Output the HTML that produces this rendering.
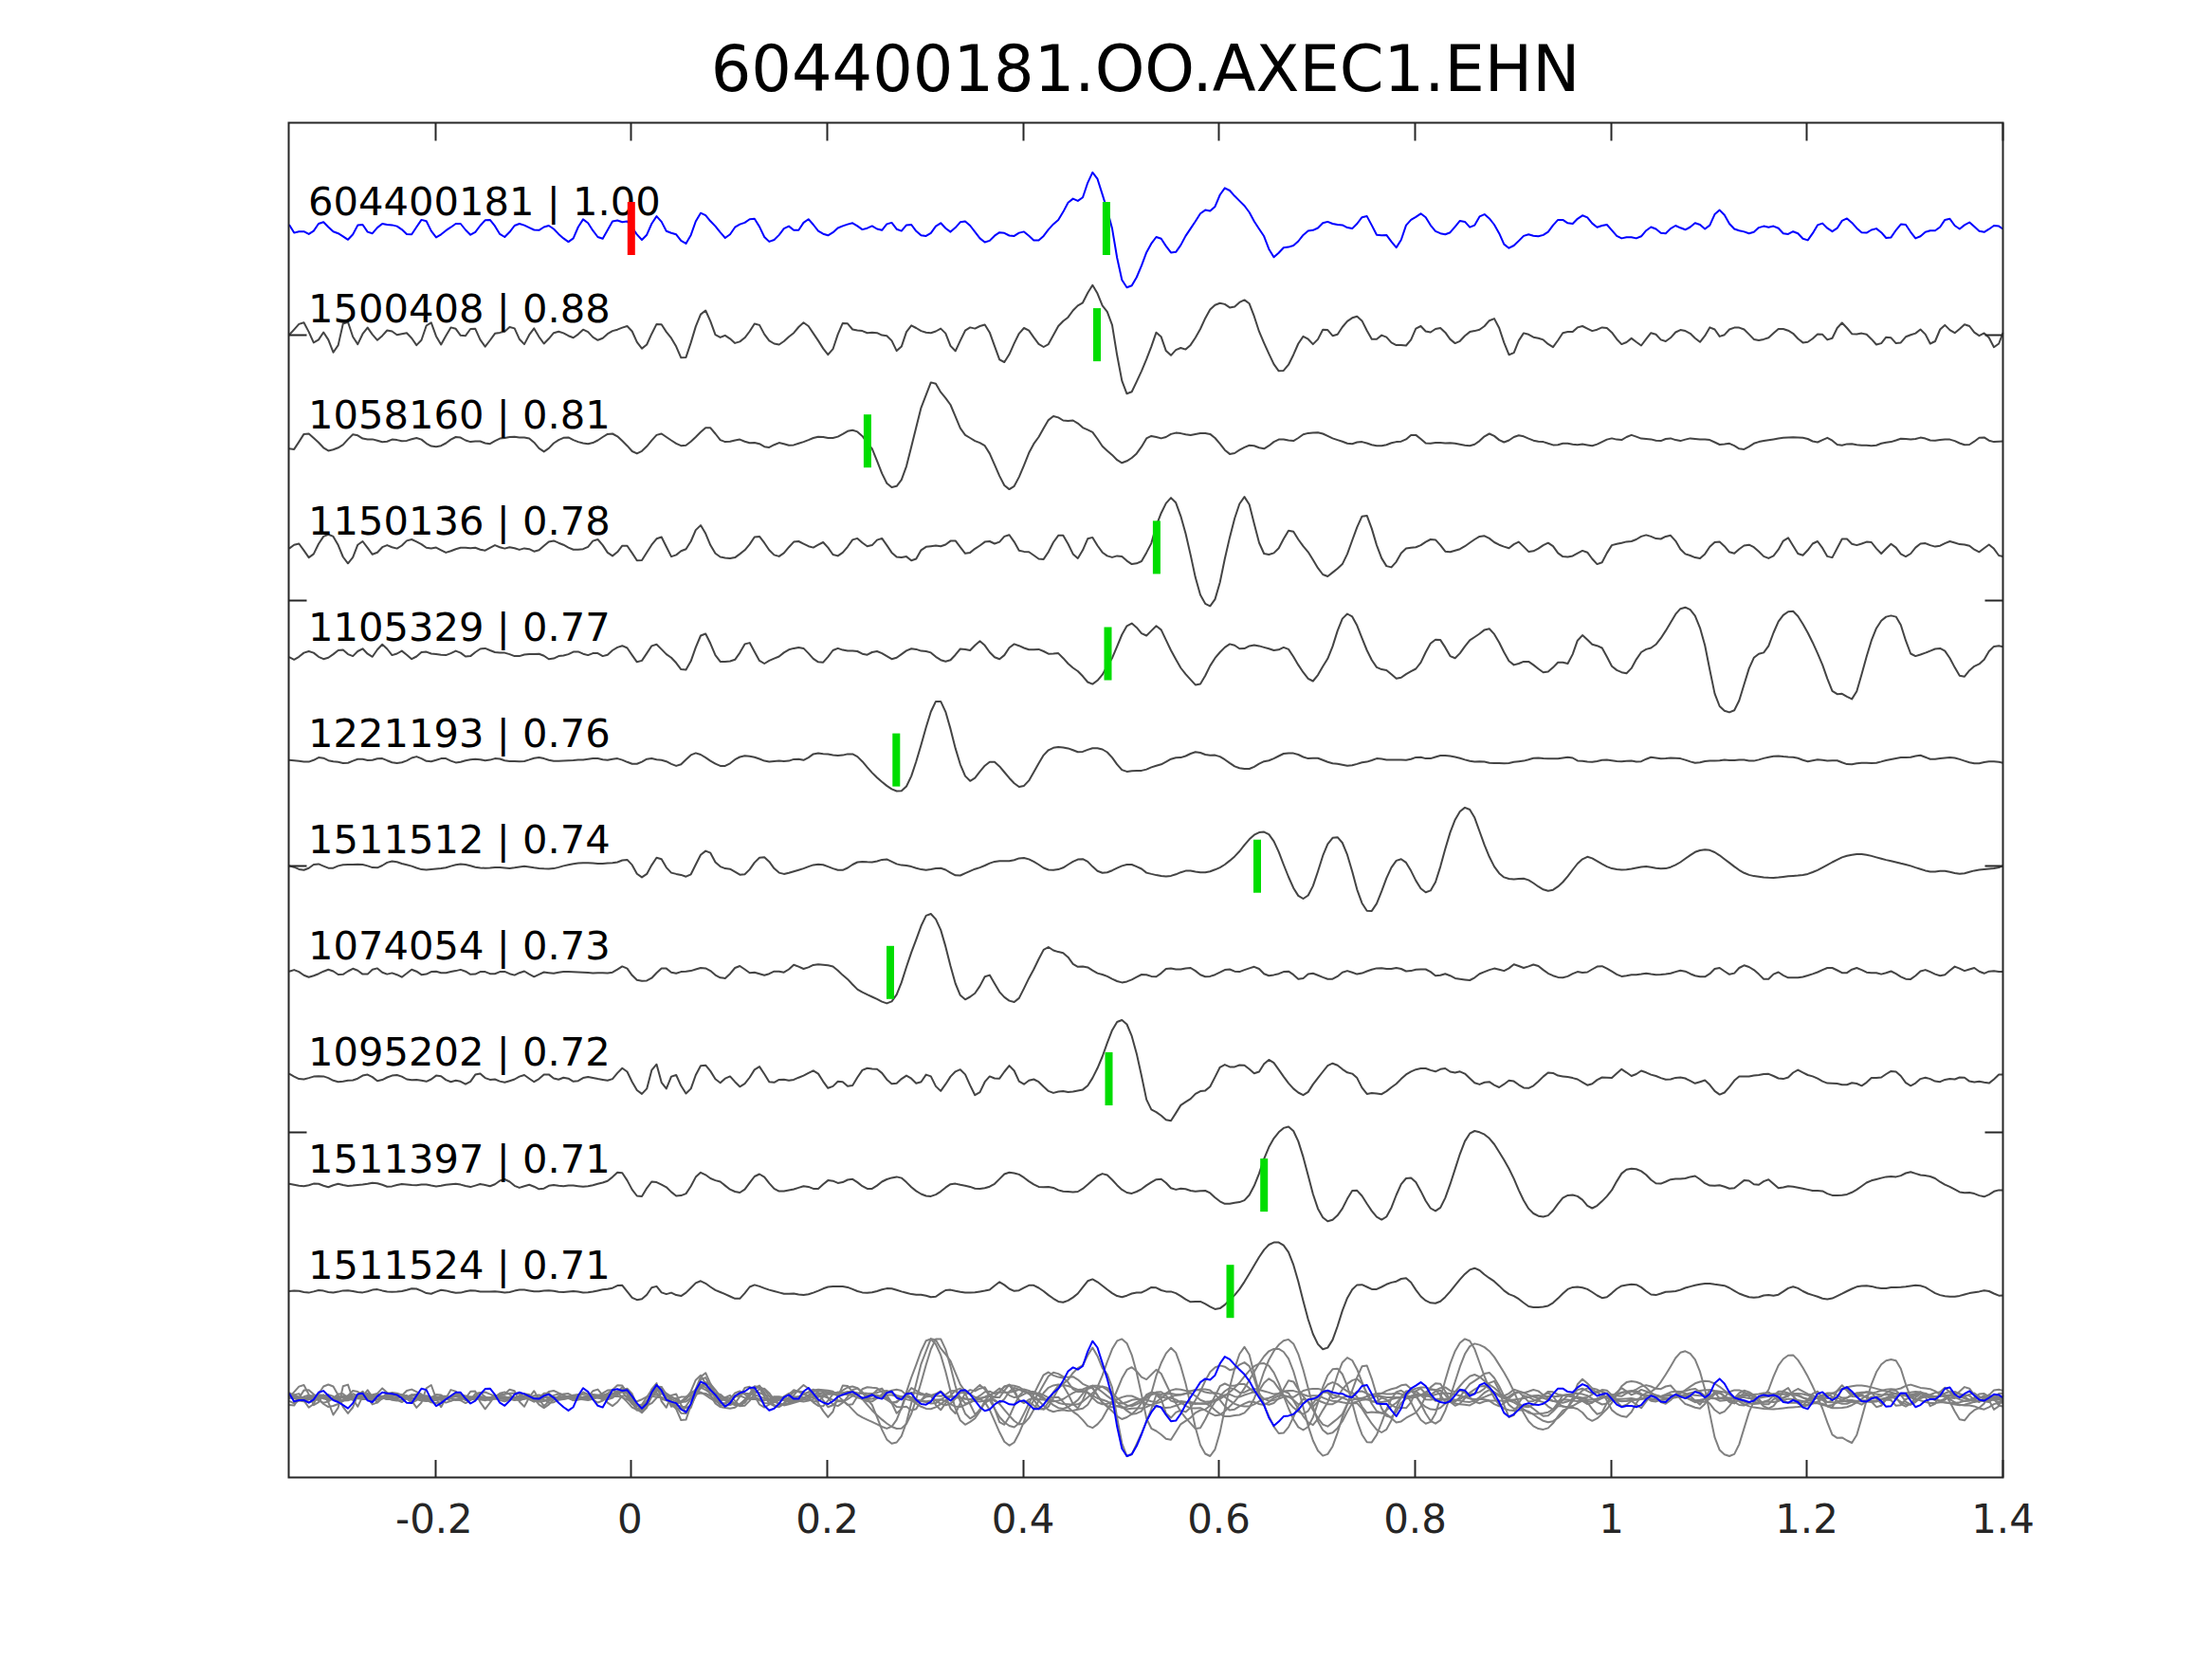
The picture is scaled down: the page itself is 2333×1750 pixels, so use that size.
<!DOCTYPE html>
<html><head><meta charset="utf-8"><title>604400181.OO.AXEC1.EHN</title>
<style>
html,body{margin:0;padding:0;background:#fff;}
body{width:2333px;height:1750px;overflow:hidden;}
svg{display:block;}
text{font-family:"DejaVu Sans","Liberation Sans",sans-serif;}
.tl{font-size:41.9px;fill:#262626;text-anchor:middle;}
.lb{font-size:41.67px;fill:#000;}
.tt{font-size:67px;fill:#000;text-anchor:middle;}
.g{fill:none;stroke:#444444;stroke-width:2;stroke-linejoin:round;stroke-linecap:butt;}
.b{fill:none;stroke:#0000ff;stroke-width:2;stroke-linejoin:round;}
.o{fill:none;stroke:#808080;stroke-width:2;stroke-linejoin:round;}
.ax{stroke:#262626;stroke-width:2;fill:none;}
</style></head><body>
<svg width="2333" height="1750" viewBox="0 0 2333 1750">
<rect x="0" y="0" width="2333" height="1750" fill="#fff"/>
<polyline class="o" points="305.0,1474.0 310.2,1468.3 315.3,1462.6 320.5,1461.0 325.7,1470.9 330.8,1482.2 336.0,1479.1 341.2,1471.3 346.3,1479.1 351.5,1492.5 356.7,1484.9 361.8,1462.2 367.0,1460.6 372.2,1476.0 377.3,1483.8 382.5,1472.9 387.7,1466.4 392.8,1473.6 398.0,1479.5 403.2,1475.0 408.3,1469.2 413.5,1470.3 418.7,1474.0 423.8,1472.9 429.0,1471.9 434.2,1477.5 439.3,1484.9 444.5,1479.5 449.7,1464.3 454.8,1461.0 460.0,1475.4 465.2,1484.2 470.3,1475.0 475.5,1466.1 480.7,1467.6 485.8,1474.6 491.0,1475.0 496.2,1467.8 501.3,1467.6 506.5,1479.1 511.7,1486.3 516.8,1479.7 522.0,1472.5 527.2,1471.7 532.3,1470.5 537.5,1465.7 542.7,1467.2 547.8,1478.5 553.0,1483.8 558.2,1474.0 563.3,1467.2 568.5,1476.0 573.7,1483.2 578.8,1478.1 584.0,1471.9 589.2,1470.5 594.3,1472.1 599.5,1475.0 604.7,1477.0 609.8,1473.3 615.0,1468.4 620.2,1470.9 625.3,1476.4 630.5,1479.5 635.7,1477.5 640.8,1472.9 646.0,1469.8 651.2,1468.4 656.3,1466.4 661.5,1464.7 666.7,1470.3 671.8,1481.6 677.0,1488.4 682.2,1484.2 687.3,1472.9 692.5,1462.6 697.7,1463.1 702.8,1470.9 708.0,1477.5 713.2,1486.3 718.3,1498.0 723.5,1497.6 728.7,1482.2 733.8,1465.1 739.0,1452.4 744.2,1448.2 749.3,1459.6 754.5,1474.0 759.7,1476.6 764.8,1474.6 770.0,1478.1 775.2,1482.6 780.3,1481.2 785.5,1477.0 790.7,1470.3 795.8,1462.2 801.0,1463.7 806.2,1473.3 811.3,1480.1 816.5,1483.2 821.7,1484.2 826.8,1480.8 832.0,1476.0 837.2,1471.9 842.3,1465.7 847.5,1461.0 852.7,1464.7 857.8,1472.3 863.0,1480.1 868.2,1488.4 873.3,1494.9 878.5,1489.0 883.7,1473.3 888.8,1461.6 894.0,1462.0 899.2,1468.2 904.3,1469.2 909.5,1469.8 914.7,1471.9 919.8,1471.5 925.0,1471.9 930.2,1474.4 935.3,1475.0 940.5,1480.1 945.7,1490.8 950.8,1486.3 956.0,1470.9 961.2,1464.1 966.3,1466.8 971.5,1469.8 976.7,1471.5 981.8,1471.9 987.0,1470.3 992.2,1467.4 997.3,1472.3 1002.5,1485.7 1007.7,1491.0 1012.8,1480.1 1018.0,1469.4 1023.2,1466.1 1028.3,1467.4 1033.5,1464.7 1038.7,1463.3 1043.8,1471.5 1049.0,1485.9 1054.2,1500.1 1059.3,1502.8 1064.5,1494.5 1069.7,1482.8 1074.8,1472.5 1080.0,1466.8 1085.2,1469.4 1090.3,1476.6 1095.5,1483.6 1100.7,1486.7 1105.8,1483.8 1111.0,1474.4 1116.2,1464.7 1121.3,1459.6 1126.5,1455.4 1131.7,1448.2 1136.8,1443.1 1142.0,1440.0 1147.2,1429.7 1152.3,1421.5 1157.5,1430.4 1162.7,1443.1 1167.8,1449.7 1173.0,1463.7 1178.2,1495.6 1183.3,1522.3 1188.5,1536.1 1193.7,1534.0 1198.8,1523.3 1204.0,1512.0 1209.2,1499.7 1214.3,1486.3 1219.5,1471.5 1224.7,1476.0 1229.8,1490.8 1235.0,1495.6 1240.2,1489.8 1245.3,1487.7 1250.5,1489.4 1255.7,1484.7 1260.8,1477.0 1266.0,1467.8 1271.2,1456.5 1276.3,1447.2 1281.5,1442.5 1286.7,1440.4 1291.8,1441.7 1297.0,1445.2 1302.2,1444.1 1307.3,1439.6 1312.5,1437.1 1317.7,1441.1 1322.8,1454.4 1328.0,1470.5 1333.2,1482.6 1338.3,1493.9 1343.5,1504.8 1348.7,1512.0 1353.8,1511.6 1359.0,1505.4 1364.2,1494.9 1369.3,1483.2 1374.5,1475.6 1379.7,1478.5 1384.8,1483.8 1390.0,1478.7 1395.2,1468.4 1400.3,1468.8 1405.5,1475.0 1410.7,1473.6 1415.8,1465.7 1421.0,1459.6 1426.2,1456.1 1431.3,1454.4 1436.5,1459.2 1441.7,1469.4 1446.8,1478.5 1452.0,1478.5 1457.2,1474.4 1462.3,1476.4 1467.5,1482.2 1472.7,1484.9 1477.8,1484.9 1483.0,1485.3 1488.2,1479.1 1493.3,1467.4 1498.5,1464.7 1503.7,1470.3 1508.8,1471.3 1514.0,1467.8 1519.2,1466.8 1524.3,1471.5 1529.5,1478.7 1534.7,1482.8 1539.8,1480.5 1545.0,1475.0 1550.2,1470.9 1555.3,1469.8 1560.5,1468.4 1565.7,1464.7 1570.8,1458.9 1576.0,1456.9 1581.2,1466.8 1586.3,1482.2 1591.5,1494.9 1596.7,1492.9 1601.8,1480.1 1607.0,1472.1 1612.2,1473.6 1617.3,1476.4 1622.5,1477.5 1627.7,1479.1 1632.8,1483.6 1638.0,1486.9 1643.2,1479.7 1648.3,1471.9 1653.5,1470.9 1658.7,1470.9 1663.8,1466.1 1669.0,1464.7 1674.2,1467.4 1679.3,1469.8 1684.5,1468.4 1689.7,1466.1 1694.8,1466.8 1700.0,1471.5 1705.2,1478.5 1710.3,1483.8 1715.5,1481.8 1720.7,1477.7 1725.8,1481.6 1731.0,1485.3 1736.2,1478.5 1741.3,1471.9 1746.5,1473.6 1751.7,1479.1 1756.8,1480.8 1762.0,1477.0 1767.2,1471.3 1772.3,1468.8 1777.5,1469.8 1782.7,1472.5 1787.8,1477.5 1793.0,1481.6 1798.2,1475.0 1803.3,1466.1 1808.5,1468.2 1813.7,1475.6 1818.8,1474.0 1824.0,1468.2 1829.2,1466.4 1834.3,1466.4 1839.5,1468.2 1844.7,1473.3 1849.8,1478.7 1855.0,1479.7 1860.2,1478.7 1865.3,1477.0 1870.5,1472.3 1875.7,1467.8 1880.8,1467.8 1886.0,1469.4 1891.2,1472.5 1896.3,1478.1 1901.5,1482.2 1906.7,1481.6 1911.8,1478.1 1917.0,1473.3 1922.2,1473.6 1927.3,1479.1 1932.5,1477.5 1937.7,1466.8 1942.8,1461.2 1948.0,1466.8 1953.2,1472.9 1958.3,1473.3 1963.5,1472.3 1968.7,1473.6 1973.8,1478.5 1979.0,1484.2 1984.2,1482.8 1989.3,1476.4 1994.5,1477.0 1999.7,1482.8 2004.8,1482.2 2010.0,1476.0 2015.2,1474.0 2020.3,1472.3 2025.5,1468.2 2030.7,1473.3 2035.8,1483.2 2041.0,1480.8 2046.2,1468.2 2051.3,1463.7 2056.5,1468.8 2061.7,1471.9 2066.8,1467.8 2072.0,1463.1 2077.2,1464.7 2082.3,1471.5 2087.5,1475.0 2092.7,1472.1 2097.8,1477.0 2103.0,1486.9 2108.2,1483.2 2112.5,1471.9"/>
<polyline class="o" points="305.0,1482.0 310.2,1482.6 315.3,1474.8 320.5,1466.6 325.7,1466.2 330.8,1470.7 336.0,1475.4 341.2,1481.0 346.3,1484.1 351.5,1483.0 356.7,1481.0 361.8,1477.9 367.0,1472.1 372.2,1467.0 377.3,1468.0 382.5,1471.3 387.7,1472.1 392.8,1472.1 398.0,1473.4 403.2,1475.0 408.3,1474.4 413.5,1472.3 418.7,1472.8 423.8,1474.0 429.0,1473.6 434.2,1471.9 439.3,1470.7 444.5,1472.3 449.7,1476.5 454.8,1479.3 460.0,1479.9 465.2,1478.9 470.3,1476.2 475.5,1472.3 480.7,1469.7 485.8,1470.3 491.0,1473.2 496.2,1474.8 501.3,1474.2 506.5,1474.2 511.7,1476.2 516.8,1476.9 522.0,1473.8 527.2,1471.3 532.3,1470.7 537.5,1469.7 542.7,1469.5 547.8,1470.1 553.0,1470.3 558.2,1471.1 563.3,1475.4 568.5,1481.6 573.7,1485.1 578.8,1481.6 584.0,1476.2 589.2,1472.8 594.3,1470.5 599.5,1470.1 604.7,1472.8 609.8,1474.8 615.0,1476.2 620.2,1476.9 625.3,1475.8 630.5,1473.2 635.7,1469.7 640.8,1466.6 646.0,1466.2 651.2,1469.0 656.3,1473.8 661.5,1478.9 666.7,1484.7 671.8,1487.1 677.0,1484.5 682.2,1479.5 687.3,1473.4 692.5,1467.6 697.7,1466.2 702.8,1469.7 708.0,1473.2 713.2,1476.5 718.3,1478.9 723.5,1478.5 728.7,1474.4 733.8,1469.7 739.0,1464.5 744.2,1460.0 749.3,1460.0 754.5,1466.2 759.7,1472.8 764.8,1474.8 770.0,1474.4 775.2,1473.2 780.3,1472.3 785.5,1474.4 790.7,1476.0 795.8,1475.8 801.0,1476.9 806.2,1479.9 811.3,1480.6 816.5,1477.9 821.7,1475.8 826.8,1476.9 832.0,1478.5 837.2,1478.1 842.3,1476.5 847.5,1474.8 852.7,1472.8 857.8,1470.7 863.0,1469.5 868.2,1469.7 873.3,1470.7 878.5,1470.7 883.7,1469.3 888.8,1466.6 894.0,1463.5 899.2,1462.5 904.3,1464.1 909.5,1468.6 914.7,1475.8 919.8,1482.0 925.0,1494.8 930.2,1508.1 935.3,1518.4 940.5,1522.7 945.7,1521.5 950.8,1514.9 956.0,1500.5 961.2,1479.9 966.3,1459.4 971.5,1438.8 976.7,1425.4 981.8,1412.1 987.0,1413.5 992.2,1422.4 997.3,1428.5 1002.5,1435.7 1007.7,1448.1 1012.8,1460.4 1018.0,1467.6 1023.2,1470.7 1028.3,1473.8 1033.5,1475.8 1038.7,1478.9 1043.8,1487.1 1049.0,1498.9 1054.2,1510.8 1059.3,1520.7 1064.5,1524.8 1069.7,1521.5 1074.8,1511.8 1080.0,1499.5 1085.2,1486.5 1090.3,1476.9 1095.5,1469.7 1100.7,1460.4 1105.8,1451.8 1111.0,1447.7 1116.2,1449.1 1121.3,1452.2 1126.5,1452.8 1131.7,1452.2 1136.8,1455.3 1142.0,1459.8 1147.2,1462.1 1152.3,1464.5 1157.5,1471.7 1162.7,1479.5 1167.8,1484.1 1173.0,1488.6 1178.2,1493.9 1183.3,1497.0 1188.5,1495.0 1193.7,1491.7 1198.8,1487.1 1204.0,1479.9 1209.2,1471.1 1214.3,1468.6 1219.5,1469.7 1224.7,1471.1 1229.8,1469.7 1235.0,1466.6 1240.2,1465.3 1245.3,1465.8 1250.5,1467.0 1255.7,1467.6 1260.8,1466.6 1266.0,1465.6 1271.2,1465.6 1276.3,1466.6 1281.5,1470.7 1286.7,1476.9 1291.8,1483.4 1297.0,1487.6 1302.2,1486.7 1307.3,1483.4 1312.5,1480.6 1317.7,1478.5 1322.8,1478.9 1328.0,1481.0 1333.2,1482.0 1338.3,1478.9 1343.5,1474.8 1348.7,1472.3 1353.8,1472.1 1359.0,1473.2 1364.2,1473.8 1369.3,1470.7 1374.5,1467.0 1379.7,1465.6 1384.8,1465.1 1390.0,1464.9 1395.2,1466.2 1400.3,1468.6 1405.5,1471.1 1410.7,1472.8 1415.8,1474.4 1421.0,1476.5 1426.2,1476.9 1431.3,1475.2 1436.5,1474.8 1441.7,1476.2 1446.8,1477.9 1452.0,1478.9 1457.2,1478.9 1462.3,1477.9 1467.5,1476.0 1472.7,1474.8 1477.8,1474.4 1483.0,1472.1 1488.2,1467.6 1493.3,1467.6 1498.5,1471.7 1503.7,1476.2 1508.8,1476.5 1514.0,1475.8 1519.2,1475.8 1524.3,1476.2 1529.5,1476.0 1534.7,1476.5 1539.8,1477.5 1545.0,1478.5 1550.2,1478.9 1555.3,1477.5 1560.5,1473.8 1565.7,1469.0 1570.8,1466.2 1576.0,1468.6 1581.2,1472.8 1586.3,1475.2 1591.5,1473.2 1596.7,1469.7 1601.8,1468.0 1607.0,1469.0 1612.2,1471.3 1617.3,1473.4 1622.5,1474.4 1627.7,1474.8 1632.8,1476.5 1638.0,1478.1 1643.2,1477.9 1648.3,1476.5 1653.5,1476.5 1658.7,1477.5 1663.8,1477.9 1669.0,1477.3 1674.2,1478.1 1679.3,1478.9 1684.5,1477.3 1689.7,1474.8 1694.8,1472.3 1700.0,1471.1 1705.2,1472.3 1710.3,1472.8 1715.5,1469.7 1720.7,1467.6 1725.8,1469.3 1731.0,1471.3 1736.2,1471.7 1741.3,1472.1 1746.5,1473.4 1751.7,1473.8 1756.8,1471.7 1762.0,1471.1 1767.2,1472.8 1772.3,1473.8 1777.5,1472.3 1782.7,1471.1 1787.8,1471.7 1793.0,1472.3 1798.2,1472.1 1803.3,1472.8 1808.5,1475.2 1813.7,1477.7 1818.8,1477.3 1824.0,1476.5 1829.2,1478.9 1834.3,1482.0 1839.5,1482.6 1844.7,1479.9 1849.8,1476.5 1855.0,1474.8 1860.2,1473.8 1865.3,1473.0 1870.5,1472.1 1875.7,1471.1 1880.8,1470.5 1886.0,1470.1 1891.2,1469.9 1896.3,1470.1 1901.5,1470.5 1906.7,1471.7 1911.8,1474.2 1917.0,1475.2 1922.2,1472.8 1927.3,1470.5 1932.5,1473.4 1937.7,1477.7 1942.8,1478.5 1948.0,1477.1 1953.2,1476.9 1958.3,1477.9 1963.5,1478.5 1968.7,1478.5 1973.8,1478.9 1979.0,1478.5 1984.2,1476.5 1989.3,1475.4 1994.5,1474.8 1999.7,1473.2 2004.8,1471.5 2010.0,1471.7 2015.2,1472.3 2020.3,1471.7 2025.5,1470.3 2030.7,1471.3 2035.8,1473.2 2041.0,1473.4 2046.2,1472.8 2051.3,1472.1 2056.5,1472.3 2061.7,1473.8 2066.8,1476.2 2072.0,1477.9 2077.2,1477.7 2082.3,1474.4 2087.5,1470.5 2092.7,1470.1 2097.8,1473.4 2103.0,1474.8 2108.2,1474.4 2112.5,1474.2"/>
<polyline class="o" points="305.0,1475.3 310.2,1471.4 315.3,1470.1 320.5,1477.3 325.7,1484.7 330.8,1481.0 336.0,1470.3 341.2,1462.5 346.3,1460.5 351.5,1462.5 356.7,1471.8 361.8,1484.1 367.0,1490.9 372.2,1484.5 377.3,1471.4 382.5,1467.7 387.7,1474.5 392.8,1481.4 398.0,1479.4 403.2,1473.8 408.3,1471.8 413.5,1473.8 418.7,1475.3 423.8,1472.2 429.0,1467.0 434.2,1465.6 439.3,1468.1 444.5,1470.7 449.7,1474.5 454.8,1475.1 460.0,1474.2 465.2,1476.9 470.3,1479.6 475.5,1477.9 480.7,1475.9 485.8,1474.5 491.0,1474.5 496.2,1474.9 501.3,1474.5 506.5,1476.3 511.7,1477.3 516.8,1474.5 522.0,1471.8 527.2,1473.8 532.3,1475.3 537.5,1473.8 542.7,1474.9 547.8,1476.5 553.0,1475.1 558.2,1475.9 563.3,1478.4 568.5,1476.9 573.7,1472.4 578.8,1468.1 584.0,1467.0 589.2,1469.3 594.3,1471.4 599.5,1474.2 604.7,1476.3 609.8,1476.3 615.0,1475.9 620.2,1473.4 625.3,1467.3 630.5,1465.6 635.7,1471.8 640.8,1479.6 646.0,1483.1 651.2,1479.0 656.3,1472.4 661.5,1472.4 666.7,1480.0 671.8,1487.8 677.0,1487.6 682.2,1479.4 687.3,1471.4 692.5,1465.0 697.7,1463.1 702.8,1473.4 708.0,1483.7 713.2,1482.1 718.3,1477.9 723.5,1475.9 728.7,1467.7 733.8,1455.7 739.0,1450.8 744.2,1459.4 749.3,1471.8 754.5,1480.4 759.7,1484.1 764.8,1485.1 770.0,1485.8 775.2,1484.7 780.3,1481.0 785.5,1476.9 790.7,1470.7 795.8,1463.1 801.0,1462.5 806.2,1469.3 811.3,1476.9 816.5,1482.1 821.7,1483.5 826.8,1480.0 832.0,1473.8 837.2,1468.3 842.3,1467.7 847.5,1470.3 852.7,1472.8 857.8,1474.2 863.0,1471.4 868.2,1468.7 873.3,1474.2 878.5,1481.7 883.7,1483.1 888.8,1479.6 894.0,1473.4 899.2,1466.0 904.3,1464.6 909.5,1469.1 914.7,1472.8 919.8,1471.8 925.0,1466.2 930.2,1464.6 935.3,1471.8 940.5,1479.6 945.7,1484.1 950.8,1484.5 956.0,1483.7 961.2,1487.8 966.3,1486.2 971.5,1476.9 976.7,1473.4 981.8,1472.8 987.0,1472.2 992.2,1472.8 997.3,1471.2 1002.5,1467.3 1007.7,1467.0 1012.8,1473.8 1018.0,1480.4 1023.2,1479.6 1028.3,1475.5 1033.5,1472.2 1038.7,1468.3 1043.8,1467.7 1049.0,1470.1 1054.2,1468.3 1059.3,1462.5 1064.5,1460.9 1069.7,1468.3 1074.8,1477.3 1080.0,1478.6 1085.2,1479.0 1090.3,1482.5 1095.5,1486.2 1100.7,1486.6 1105.8,1479.0 1111.0,1468.7 1116.2,1461.5 1121.3,1461.5 1126.5,1470.3 1131.7,1481.0 1136.8,1485.6 1142.0,1476.9 1147.2,1465.0 1152.3,1463.5 1157.5,1472.2 1162.7,1479.4 1167.8,1483.1 1173.0,1484.5 1178.2,1483.1 1183.3,1483.5 1188.5,1488.2 1193.7,1491.7 1198.8,1490.9 1204.0,1488.6 1209.2,1479.6 1214.3,1469.7 1219.5,1451.2 1224.7,1437.8 1229.8,1427.6 1235.0,1421.8 1240.2,1426.9 1245.3,1440.9 1250.5,1459.4 1255.7,1482.1 1260.8,1505.7 1266.0,1524.2 1271.2,1533.5 1276.3,1536.0 1281.5,1528.8 1286.7,1510.9 1291.8,1486.2 1297.0,1463.5 1302.2,1443.4 1307.3,1428.2 1312.5,1420.8 1317.7,1429.0 1322.8,1449.2 1328.0,1469.1 1333.2,1480.6 1338.3,1481.7 1343.5,1480.0 1348.7,1474.9 1353.8,1465.2 1359.0,1456.3 1364.2,1457.4 1369.3,1465.6 1374.5,1472.8 1379.7,1479.0 1384.8,1487.2 1390.0,1495.8 1395.2,1502.6 1400.3,1504.7 1405.5,1500.6 1410.7,1496.5 1415.8,1491.7 1421.0,1481.0 1426.2,1466.6 1431.3,1452.9 1436.5,1441.3 1441.7,1440.5 1446.8,1454.3 1452.0,1471.8 1457.2,1485.6 1462.3,1493.8 1467.5,1495.0 1472.7,1489.3 1477.8,1480.0 1483.0,1475.3 1488.2,1474.5 1493.3,1473.8 1498.5,1471.8 1503.7,1468.3 1508.8,1465.6 1514.0,1466.0 1519.2,1471.8 1524.3,1478.4 1529.5,1479.0 1534.7,1477.3 1539.8,1475.9 1545.0,1472.8 1550.2,1469.1 1555.3,1465.6 1560.5,1462.5 1565.7,1461.9 1570.8,1464.6 1576.0,1468.7 1581.2,1471.4 1586.3,1473.2 1591.5,1474.9 1596.7,1470.7 1601.8,1468.3 1607.0,1473.2 1612.2,1478.6 1617.3,1477.9 1622.5,1475.3 1627.7,1471.8 1632.8,1469.3 1638.0,1472.8 1643.2,1480.0 1648.3,1483.7 1653.5,1484.1 1658.7,1483.1 1663.8,1480.2 1669.0,1477.5 1674.2,1479.4 1679.3,1486.2 1684.5,1491.7 1689.7,1489.9 1694.8,1480.0 1700.0,1471.8 1705.2,1470.3 1710.3,1469.3 1715.5,1468.1 1720.7,1467.7 1725.8,1465.6 1731.0,1462.5 1736.2,1461.1 1741.3,1462.5 1746.5,1464.8 1751.7,1465.2 1756.8,1462.5 1762.0,1461.5 1767.2,1467.3 1772.3,1475.9 1777.5,1481.0 1782.7,1482.7 1787.8,1484.7 1793.0,1485.8 1798.2,1481.0 1803.3,1473.4 1808.5,1468.7 1813.7,1468.3 1818.8,1472.8 1824.0,1479.0 1829.2,1480.4 1834.3,1475.9 1839.5,1472.2 1844.7,1471.4 1849.8,1473.8 1855.0,1478.4 1860.2,1483.5 1865.3,1485.6 1870.5,1483.1 1875.7,1476.3 1880.8,1467.3 1886.0,1464.0 1891.2,1472.4 1896.3,1480.6 1901.5,1482.5 1906.7,1476.9 1911.8,1470.1 1917.0,1467.7 1922.2,1474.9 1927.3,1483.5 1932.5,1484.7 1937.7,1474.9 1942.8,1465.2 1948.0,1465.2 1953.2,1470.3 1958.3,1471.8 1963.5,1470.1 1968.7,1468.3 1973.8,1468.7 1979.0,1475.3 1984.2,1480.6 1989.3,1475.5 1994.5,1470.3 1999.7,1474.2 2004.8,1481.0 2010.0,1483.7 2015.2,1480.6 2020.3,1474.2 2025.5,1470.1 2030.7,1469.7 2035.8,1471.8 2041.0,1473.2 2046.2,1472.4 2051.3,1469.7 2056.5,1467.7 2061.7,1469.1 2066.8,1470.7 2072.0,1471.2 2077.2,1472.4 2082.3,1476.3 2087.5,1479.0 2092.7,1474.9 2097.8,1471.2 2103.0,1475.5 2108.2,1482.7 2112.5,1483.5"/>
<polyline class="o" points="305.0,1477.8 310.2,1480.4 315.3,1477.4 320.5,1473.2 325.7,1471.6 330.8,1473.2 336.0,1477.4 341.2,1479.8 346.3,1478.4 351.5,1474.7 356.7,1470.6 361.8,1470.2 367.0,1474.7 372.2,1476.7 377.3,1471.6 382.5,1468.9 387.7,1474.3 392.8,1477.4 398.0,1469.9 403.2,1464.4 408.3,1469.1 413.5,1475.7 418.7,1474.1 423.8,1471.2 429.0,1475.3 434.2,1479.8 439.3,1477.1 444.5,1472.6 449.7,1472.2 454.8,1474.1 460.0,1474.7 465.2,1475.3 470.3,1475.7 475.5,1473.7 480.7,1471.2 485.8,1473.2 491.0,1477.1 496.2,1476.7 501.3,1472.6 506.5,1469.1 511.7,1468.5 516.8,1470.6 522.0,1472.6 527.2,1473.2 532.3,1473.2 537.5,1474.7 542.7,1476.7 547.8,1476.7 553.0,1475.1 558.2,1474.7 563.3,1474.7 568.5,1474.3 573.7,1476.3 578.8,1479.8 584.0,1479.2 589.2,1476.7 594.3,1476.1 599.5,1474.7 604.7,1472.2 609.8,1472.0 615.0,1474.3 620.2,1475.7 625.3,1473.7 630.5,1473.7 635.7,1476.7 640.8,1475.3 646.0,1470.6 651.2,1467.5 656.3,1465.8 661.5,1468.1 666.7,1475.7 671.8,1482.9 677.0,1481.5 682.2,1473.7 687.3,1466.0 692.5,1464.4 697.7,1469.5 702.8,1474.7 708.0,1478.4 713.2,1483.9 718.3,1490.7 723.5,1491.1 728.7,1481.9 733.8,1467.5 739.0,1455.1 744.2,1453.1 749.3,1463.4 754.5,1475.7 759.7,1482.5 764.8,1482.5 770.0,1482.1 775.2,1480.4 780.3,1473.2 785.5,1464.0 790.7,1462.7 795.8,1472.0 801.0,1481.5 806.2,1484.6 811.3,1481.5 816.5,1479.2 821.7,1477.1 826.8,1473.0 832.0,1469.9 837.2,1468.5 842.3,1467.5 847.5,1468.5 852.7,1473.7 857.8,1479.4 863.0,1482.9 868.2,1483.3 873.3,1477.4 878.5,1470.6 883.7,1468.5 888.8,1470.2 894.0,1471.2 899.2,1471.0 904.3,1471.6 909.5,1474.3 914.7,1475.3 919.8,1472.6 925.0,1471.6 930.2,1473.7 935.3,1476.7 940.5,1479.8 945.7,1478.4 950.8,1474.7 956.0,1471.0 961.2,1468.9 966.3,1469.5 971.5,1471.2 976.7,1471.6 981.8,1473.0 987.0,1477.4 992.2,1480.8 997.3,1482.3 1002.5,1480.8 1007.7,1475.3 1012.8,1469.1 1018.0,1469.5 1023.2,1470.6 1028.3,1465.4 1033.5,1460.9 1038.7,1465.4 1043.8,1472.6 1049.0,1477.8 1054.2,1479.8 1059.3,1475.7 1064.5,1467.9 1069.7,1464.0 1074.8,1465.8 1080.0,1468.1 1085.2,1469.9 1090.3,1469.9 1095.5,1469.5 1100.7,1471.6 1105.8,1474.3 1111.0,1474.1 1116.2,1473.7 1121.3,1478.8 1126.5,1484.6 1131.7,1489.1 1136.8,1492.6 1142.0,1497.9 1147.2,1504.1 1152.3,1506.2 1157.5,1502.4 1162.7,1496.3 1167.8,1487.0 1173.0,1478.8 1178.2,1466.5 1183.3,1454.1 1188.5,1444.9 1193.7,1442.2 1198.8,1446.5 1204.0,1452.7 1209.2,1455.1 1214.3,1450.0 1219.5,1444.9 1224.7,1449.0 1229.8,1459.7 1235.0,1470.6 1240.2,1480.2 1245.3,1489.1 1250.5,1495.7 1255.7,1501.4 1260.8,1507.0 1266.0,1506.2 1271.2,1497.3 1276.3,1487.0 1281.5,1478.8 1286.7,1472.6 1291.8,1467.5 1297.0,1464.0 1302.2,1465.4 1307.3,1468.9 1312.5,1468.7 1317.7,1466.0 1322.8,1465.0 1328.0,1466.0 1333.2,1467.5 1338.3,1468.9 1343.5,1470.6 1348.7,1469.9 1353.8,1467.5 1359.0,1469.5 1364.2,1477.4 1369.3,1486.0 1374.5,1493.8 1379.7,1500.4 1384.8,1503.1 1390.0,1496.7 1395.2,1487.6 1400.3,1479.4 1405.5,1466.5 1410.7,1450.0 1415.8,1437.2 1421.0,1432.1 1426.2,1435.0 1431.3,1444.4 1436.5,1457.8 1441.7,1470.6 1446.8,1480.8 1452.0,1488.5 1457.2,1490.7 1462.3,1491.5 1467.5,1495.9 1472.7,1500.4 1477.8,1499.4 1483.0,1495.7 1488.2,1492.8 1493.3,1490.1 1498.5,1483.5 1503.7,1472.6 1508.8,1463.4 1514.0,1459.3 1519.2,1459.7 1524.3,1467.5 1529.5,1476.7 1534.7,1478.8 1539.8,1473.7 1545.0,1466.5 1550.2,1459.9 1555.3,1456.6 1560.5,1453.1 1565.7,1449.0 1570.8,1447.9 1576.0,1453.5 1581.2,1462.3 1586.3,1472.6 1591.5,1481.9 1596.7,1486.0 1601.8,1484.6 1607.0,1482.5 1612.2,1482.5 1617.3,1486.0 1622.5,1490.1 1627.7,1493.8 1632.8,1493.2 1638.0,1488.7 1643.2,1483.3 1648.3,1483.3 1653.5,1484.6 1658.7,1474.7 1663.8,1460.3 1669.0,1454.7 1674.2,1459.3 1679.3,1464.4 1684.5,1465.8 1689.7,1468.1 1694.8,1477.4 1700.0,1487.4 1705.2,1491.5 1710.3,1493.8 1715.5,1494.8 1720.7,1489.5 1725.8,1480.2 1731.0,1472.6 1736.2,1469.5 1741.3,1468.1 1746.5,1464.4 1751.7,1457.8 1756.8,1450.0 1762.0,1441.4 1767.2,1432.5 1772.3,1426.8 1777.5,1425.3 1782.7,1427.8 1787.8,1434.2 1793.0,1446.9 1798.2,1465.4 1803.3,1491.1 1808.5,1516.2 1813.7,1529.6 1818.8,1534.3 1824.0,1536.0 1829.2,1533.9 1834.3,1523.6 1839.5,1506.6 1844.7,1489.7 1849.8,1478.4 1855.0,1474.3 1860.2,1473.0 1865.3,1466.0 1870.5,1452.1 1875.7,1440.3 1880.8,1433.5 1886.0,1429.8 1891.2,1429.4 1896.3,1434.6 1901.5,1442.8 1906.7,1452.1 1911.8,1462.3 1917.0,1473.7 1922.2,1486.0 1927.3,1500.4 1932.5,1513.3 1937.7,1516.8 1942.8,1516.4 1948.0,1519.5 1953.2,1522.0 1958.3,1513.8 1963.5,1495.9 1968.7,1477.1 1973.8,1460.3 1979.0,1447.3 1984.2,1439.3 1989.3,1435.2 1994.5,1434.0 1999.7,1435.2 2004.8,1443.8 2010.0,1460.3 2015.2,1474.1 2020.3,1476.7 2025.5,1475.1 2030.7,1473.2 2035.8,1471.2 2041.0,1469.1 2046.2,1468.5 2051.3,1471.2 2056.5,1478.8 2061.7,1488.7 2066.8,1497.3 2072.0,1498.3 2077.2,1491.8 2082.3,1487.4 2087.5,1485.0 2092.7,1480.4 2097.8,1471.6 2103.0,1466.5 2108.2,1465.8 2112.5,1466.9"/>
<polyline class="o" points="305.0,1474.3 310.2,1474.7 315.3,1475.4 320.5,1476.0 325.7,1476.2 330.8,1474.3 336.0,1471.6 341.2,1472.3 346.3,1474.7 351.5,1475.8 356.7,1476.4 361.8,1477.4 367.0,1477.2 372.2,1475.1 377.3,1473.3 382.5,1473.3 387.7,1474.5 392.8,1474.3 398.0,1472.9 403.2,1472.7 408.3,1474.7 413.5,1476.8 418.7,1477.4 423.8,1476.8 429.0,1474.9 434.2,1472.1 439.3,1470.6 444.5,1472.7 449.7,1475.4 454.8,1475.8 460.0,1474.3 465.2,1472.7 470.3,1472.7 475.5,1475.1 480.7,1477.0 485.8,1476.4 491.0,1474.7 496.2,1473.7 501.3,1473.3 506.5,1473.7 511.7,1474.7 516.8,1474.1 522.0,1472.7 527.2,1473.1 532.3,1474.7 537.5,1475.6 542.7,1475.6 547.8,1475.8 553.0,1475.6 558.2,1473.9 563.3,1472.3 568.5,1471.6 573.7,1472.7 578.8,1474.3 584.0,1475.4 589.2,1475.4 594.3,1474.9 599.5,1474.7 604.7,1474.5 609.8,1474.1 615.0,1473.9 620.2,1473.3 625.3,1472.7 630.5,1472.7 635.7,1473.7 640.8,1474.3 646.0,1473.3 651.2,1472.7 656.3,1474.1 661.5,1476.4 666.7,1478.2 671.8,1478.2 677.0,1476.2 682.2,1473.3 687.3,1472.7 692.5,1473.7 697.7,1474.3 702.8,1475.8 708.0,1478.4 713.2,1480.5 718.3,1478.8 723.5,1473.7 728.7,1469.0 733.8,1466.9 739.0,1468.6 744.2,1471.6 749.3,1475.1 754.5,1478.2 759.7,1480.5 764.8,1480.5 770.0,1477.8 775.2,1473.7 780.3,1471.0 785.5,1469.8 790.7,1470.2 795.8,1471.2 801.0,1473.1 806.2,1475.1 811.3,1476.2 816.5,1475.6 821.7,1475.1 826.8,1475.6 832.0,1475.1 837.2,1473.5 842.3,1473.3 847.5,1474.3 852.7,1471.6 857.8,1467.9 863.0,1467.1 868.2,1467.7 873.3,1468.2 878.5,1469.0 883.7,1469.6 888.8,1469.2 894.0,1467.9 899.2,1467.9 904.3,1470.6 909.5,1475.8 914.7,1481.9 919.8,1487.7 925.0,1492.8 930.2,1497.4 935.3,1501.5 940.5,1505.0 945.7,1507.0 950.8,1506.8 956.0,1502.1 961.2,1491.2 966.3,1475.8 971.5,1458.3 976.7,1439.8 981.8,1423.3 987.0,1412.4 992.2,1412.4 997.3,1423.3 1002.5,1441.4 1007.7,1462.0 1012.8,1478.8 1018.0,1491.2 1023.2,1496.3 1028.3,1493.2 1033.5,1486.5 1038.7,1480.3 1043.8,1476.4 1049.0,1476.4 1054.2,1480.9 1059.3,1487.1 1064.5,1493.2 1069.7,1498.8 1074.8,1502.5 1080.0,1501.5 1085.2,1495.9 1090.3,1487.1 1095.5,1477.8 1100.7,1469.2 1105.8,1463.8 1111.0,1461.4 1116.2,1460.5 1121.3,1461.0 1126.5,1462.0 1131.7,1463.8 1136.8,1465.9 1142.0,1465.5 1147.2,1463.4 1152.3,1461.8 1157.5,1461.8 1162.7,1463.0 1167.8,1466.1 1173.0,1471.6 1178.2,1478.8 1183.3,1484.6 1188.5,1486.5 1193.7,1485.8 1198.8,1485.4 1204.0,1485.4 1209.2,1484.2 1214.3,1481.9 1219.5,1480.3 1224.7,1478.8 1229.8,1476.2 1235.0,1473.3 1240.2,1471.9 1245.3,1471.6 1250.5,1470.0 1255.7,1467.5 1260.8,1465.9 1266.0,1466.5 1271.2,1468.6 1276.3,1469.4 1281.5,1469.2 1286.7,1470.6 1291.8,1473.7 1297.0,1477.4 1302.2,1480.9 1307.3,1482.8 1312.5,1483.6 1317.7,1483.6 1322.8,1481.3 1328.0,1478.2 1333.2,1475.8 1338.3,1474.7 1343.5,1472.7 1348.7,1470.0 1353.8,1467.5 1359.0,1466.9 1364.2,1467.1 1369.3,1468.6 1374.5,1471.0 1379.7,1472.7 1384.8,1472.3 1390.0,1472.3 1395.2,1474.3 1400.3,1476.4 1405.5,1477.8 1410.7,1478.2 1415.8,1479.3 1421.0,1480.3 1426.2,1479.9 1431.3,1478.4 1436.5,1476.8 1441.7,1476.2 1446.8,1474.5 1452.0,1472.7 1457.2,1473.1 1462.3,1473.9 1467.5,1474.1 1472.7,1473.9 1477.8,1474.1 1483.0,1474.3 1488.2,1473.3 1493.3,1471.4 1498.5,1471.2 1503.7,1472.7 1508.8,1472.7 1514.0,1471.0 1519.2,1469.6 1524.3,1469.6 1529.5,1470.0 1534.7,1471.0 1539.8,1472.3 1545.0,1473.9 1550.2,1475.4 1555.3,1476.0 1560.5,1475.8 1565.7,1476.2 1570.8,1477.2 1576.0,1477.6 1581.2,1477.6 1586.3,1477.8 1591.5,1477.4 1596.7,1476.4 1601.8,1475.8 1607.0,1475.1 1612.2,1473.7 1617.3,1472.3 1622.5,1472.1 1627.7,1472.7 1632.8,1472.9 1638.0,1472.9 1643.2,1472.9 1648.3,1472.1 1653.5,1471.2 1658.7,1472.1 1663.8,1474.9 1669.0,1475.4 1674.2,1476.2 1679.3,1476.4 1684.5,1475.6 1689.7,1474.3 1694.8,1474.1 1700.0,1474.7 1705.2,1475.6 1710.3,1475.8 1715.5,1475.4 1720.7,1475.1 1725.8,1476.0 1731.0,1475.8 1736.2,1473.3 1741.3,1471.2 1746.5,1472.1 1751.7,1472.9 1756.8,1472.7 1762.0,1472.1 1767.2,1472.3 1772.3,1472.7 1777.5,1474.1 1782.7,1476.0 1787.8,1477.2 1793.0,1476.8 1798.2,1475.6 1803.3,1474.9 1808.5,1475.1 1813.7,1474.7 1818.8,1474.1 1824.0,1474.5 1829.2,1474.5 1834.3,1473.9 1839.5,1474.1 1844.7,1474.9 1849.8,1475.1 1855.0,1473.9 1860.2,1472.5 1865.3,1471.2 1870.5,1470.2 1875.7,1470.0 1880.8,1470.6 1886.0,1471.0 1891.2,1471.2 1896.3,1472.3 1901.5,1474.3 1906.7,1475.8 1911.8,1474.7 1917.0,1473.7 1922.2,1474.3 1927.3,1474.9 1932.5,1474.7 1937.7,1474.7 1942.8,1476.8 1948.0,1478.6 1953.2,1478.8 1958.3,1477.8 1963.5,1477.2 1968.7,1477.2 1973.8,1477.4 1979.0,1477.2 1984.2,1476.0 1989.3,1474.5 1994.5,1473.5 1999.7,1472.5 2004.8,1471.6 2010.0,1471.6 2015.2,1471.2 2020.3,1470.0 2025.5,1469.4 2030.7,1471.2 2035.8,1473.3 2041.0,1473.3 2046.2,1472.7 2051.3,1472.1 2056.5,1471.6 2061.7,1472.1 2066.8,1473.5 2072.0,1475.1 2077.2,1476.8 2082.3,1477.8 2087.5,1477.8 2092.7,1476.6 2097.8,1475.8 2103.0,1475.8 2108.2,1476.4 2112.5,1477.2"/>
<polyline class="o" points="305.0,1473.9 310.2,1475.2 315.3,1477.4 320.5,1478.3 325.7,1476.2 330.8,1472.5 336.0,1471.9 341.2,1474.1 346.3,1476.2 351.5,1476.2 356.7,1473.9 361.8,1472.7 367.0,1472.5 372.2,1472.5 377.3,1472.3 382.5,1472.5 387.7,1473.9 392.8,1475.6 398.0,1475.8 403.2,1473.5 408.3,1470.4 413.5,1469.0 418.7,1469.8 423.8,1471.5 429.0,1472.7 434.2,1474.1 439.3,1476.0 444.5,1477.6 449.7,1478.0 454.8,1477.4 460.0,1477.0 465.2,1476.6 470.3,1475.8 475.5,1474.1 480.7,1472.7 485.8,1472.1 491.0,1472.5 496.2,1473.7 501.3,1475.2 506.5,1476.0 511.7,1476.2 516.8,1476.0 522.0,1475.6 527.2,1475.6 532.3,1476.0 537.5,1476.4 542.7,1475.8 547.8,1475.0 553.0,1474.3 558.2,1475.0 563.3,1475.8 568.5,1476.4 573.7,1476.8 578.8,1477.0 584.0,1476.6 589.2,1475.4 594.3,1473.9 599.5,1472.7 604.7,1471.7 609.8,1471.1 615.0,1470.8 620.2,1470.8 625.3,1471.1 630.5,1471.5 635.7,1471.5 640.8,1471.1 646.0,1470.8 651.2,1470.0 656.3,1468.0 661.5,1467.4 666.7,1472.9 671.8,1482.2 677.0,1485.9 682.2,1482.4 687.3,1473.1 692.5,1465.3 697.7,1466.7 702.8,1475.6 708.0,1481.1 713.2,1482.4 718.3,1483.4 723.5,1485.2 728.7,1482.8 733.8,1472.5 739.0,1462.2 744.2,1458.1 749.3,1460.2 754.5,1470.0 759.7,1474.6 764.8,1476.6 770.0,1477.2 775.2,1480.1 780.3,1483.2 785.5,1482.8 790.7,1477.6 795.8,1470.4 801.0,1465.3 806.2,1464.7 811.3,1469.4 816.5,1476.6 821.7,1481.1 826.8,1482.4 832.0,1481.3 837.2,1479.7 842.3,1478.3 847.5,1476.6 852.7,1474.6 857.8,1472.9 863.0,1472.3 868.2,1472.7 873.3,1474.6 878.5,1476.6 883.7,1478.3 888.8,1478.3 894.0,1476.0 899.2,1472.5 904.3,1470.0 909.5,1469.4 914.7,1469.8 919.8,1470.0 925.0,1469.0 930.2,1467.4 935.3,1466.9 940.5,1469.4 945.7,1471.9 950.8,1473.1 956.0,1473.5 961.2,1474.6 966.3,1476.2 971.5,1477.6 976.7,1478.3 981.8,1477.6 987.0,1476.6 992.2,1476.2 997.3,1478.0 1002.5,1481.1 1007.7,1483.8 1012.8,1484.0 1018.0,1481.8 1023.2,1479.3 1028.3,1477.2 1033.5,1475.6 1038.7,1473.5 1043.8,1471.1 1049.0,1469.4 1054.2,1468.8 1059.3,1468.8 1064.5,1468.8 1069.7,1467.8 1074.8,1465.9 1080.0,1465.5 1085.2,1466.9 1090.3,1469.4 1095.5,1472.5 1100.7,1476.0 1105.8,1478.0 1111.0,1478.3 1116.2,1477.6 1121.3,1475.8 1126.5,1472.5 1131.7,1469.4 1136.8,1467.1 1142.0,1466.7 1147.2,1469.4 1152.3,1474.6 1157.5,1479.3 1162.7,1481.3 1167.8,1480.7 1173.0,1478.7 1178.2,1476.2 1183.3,1473.9 1188.5,1472.5 1193.7,1472.5 1198.8,1474.6 1204.0,1477.0 1209.2,1481.1 1214.3,1482.4 1219.5,1483.6 1224.7,1484.6 1229.8,1485.0 1235.0,1484.4 1240.2,1482.8 1245.3,1480.7 1250.5,1479.1 1255.7,1478.9 1260.8,1479.9 1266.0,1480.7 1271.2,1480.7 1276.3,1479.7 1281.5,1477.8 1286.7,1475.6 1291.8,1472.5 1297.0,1468.4 1302.2,1463.9 1307.3,1458.5 1312.5,1451.9 1317.7,1445.8 1322.8,1441.2 1328.0,1438.6 1333.2,1438.1 1338.3,1440.6 1343.5,1447.8 1348.7,1459.1 1353.8,1472.5 1359.0,1485.5 1364.2,1497.2 1369.3,1505.4 1374.5,1508.5 1379.7,1505.0 1384.8,1495.1 1390.0,1479.7 1395.2,1463.2 1400.3,1450.9 1405.5,1444.3 1410.7,1443.7 1415.8,1449.5 1421.0,1462.2 1426.2,1479.7 1431.3,1498.8 1436.5,1513.2 1441.7,1521.2 1446.8,1521.4 1452.0,1513.6 1457.2,1500.7 1462.3,1486.9 1467.5,1475.6 1472.7,1468.4 1477.8,1466.7 1483.0,1470.4 1488.2,1479.1 1493.3,1489.4 1498.5,1497.8 1503.7,1501.7 1508.8,1499.9 1514.0,1491.0 1519.2,1474.6 1524.3,1456.0 1529.5,1438.6 1534.7,1425.2 1539.8,1416.5 1545.0,1412.4 1550.2,1414.5 1555.3,1423.1 1560.5,1437.5 1565.7,1451.9 1570.8,1464.3 1576.0,1474.6 1581.2,1481.8 1586.3,1485.9 1591.5,1487.5 1596.7,1487.9 1601.8,1487.5 1607.0,1487.3 1612.2,1488.9 1617.3,1492.0 1622.5,1495.7 1627.7,1498.8 1632.8,1500.3 1638.0,1499.2 1643.2,1495.7 1648.3,1491.0 1653.5,1484.8 1658.7,1478.0 1663.8,1471.5 1669.0,1466.8 1674.2,1464.3 1679.3,1465.9 1684.5,1468.8 1689.7,1471.9 1694.8,1474.6 1700.0,1476.6 1705.2,1477.6 1710.3,1478.0 1715.5,1477.8 1720.7,1477.0 1725.8,1476.0 1731.0,1475.0 1736.2,1474.6 1741.3,1475.2 1746.5,1476.2 1751.7,1476.8 1756.8,1476.6 1762.0,1475.2 1767.2,1472.9 1772.3,1470.0 1777.5,1466.3 1782.7,1462.6 1787.8,1459.3 1793.0,1457.5 1798.2,1456.7 1803.3,1457.3 1808.5,1459.5 1813.7,1462.8 1818.8,1466.7 1824.0,1470.6 1829.2,1474.6 1834.3,1478.3 1839.5,1481.3 1844.7,1483.4 1849.8,1484.6 1855.0,1485.2 1860.2,1485.9 1865.3,1486.3 1870.5,1486.5 1875.7,1486.1 1880.8,1485.5 1886.0,1484.8 1891.2,1484.4 1896.3,1484.0 1901.5,1483.4 1906.7,1482.4 1911.8,1480.5 1917.0,1478.3 1922.2,1475.6 1927.3,1472.9 1932.5,1470.0 1937.7,1467.4 1942.8,1464.9 1948.0,1463.2 1953.2,1462.2 1958.3,1461.6 1963.5,1461.6 1968.7,1462.2 1973.8,1463.4 1979.0,1464.9 1984.2,1466.3 1989.3,1467.6 1994.5,1468.8 1999.7,1470.0 2004.8,1471.3 2010.0,1472.5 2015.2,1473.9 2020.3,1475.6 2025.5,1477.2 2030.7,1478.9 2035.8,1479.9 2041.0,1479.9 2046.2,1479.3 2051.3,1479.3 2056.5,1480.3 2061.7,1481.5 2066.8,1482.2 2072.0,1481.8 2077.2,1480.3 2082.3,1478.9 2087.5,1478.0 2092.7,1477.4 2097.8,1477.0 2103.0,1476.6 2108.2,1475.6 2112.5,1473.9"/>
<polyline class="o" points="305.0,1473.2 310.2,1471.5 315.3,1473.6 320.5,1477.3 325.7,1479.1 330.8,1477.7 336.0,1475.6 341.2,1473.2 346.3,1471.1 351.5,1473.0 356.7,1476.5 361.8,1476.3 367.0,1473.0 372.2,1470.3 377.3,1472.1 382.5,1476.0 387.7,1476.0 392.8,1471.1 398.0,1469.9 403.2,1474.2 408.3,1476.0 413.5,1474.8 418.7,1476.7 423.8,1479.1 429.0,1475.2 434.2,1471.1 439.3,1473.2 444.5,1476.7 449.7,1476.0 454.8,1473.6 460.0,1473.2 465.2,1474.6 470.3,1474.6 475.5,1473.6 480.7,1472.5 485.8,1471.3 491.0,1473.2 496.2,1476.3 501.3,1476.0 506.5,1473.6 511.7,1473.6 516.8,1475.6 522.0,1475.6 527.2,1473.6 532.3,1473.4 537.5,1475.6 542.7,1477.1 547.8,1474.6 553.0,1473.0 558.2,1476.0 563.3,1478.7 568.5,1476.3 573.7,1474.0 578.8,1474.6 584.0,1475.2 589.2,1474.2 594.3,1473.4 599.5,1473.6 604.7,1473.8 609.8,1474.0 615.0,1474.2 620.2,1474.4 625.3,1474.8 630.5,1474.6 635.7,1474.6 640.8,1475.0 646.0,1474.2 651.2,1471.1 656.3,1467.8 661.5,1470.1 666.7,1477.3 671.8,1482.2 677.0,1483.2 682.2,1482.8 687.3,1480.2 692.5,1474.6 697.7,1469.9 702.8,1470.1 708.0,1474.2 713.2,1475.2 718.3,1473.6 723.5,1473.2 728.7,1472.5 733.8,1470.9 739.0,1469.5 744.2,1469.9 749.3,1472.5 754.5,1477.1 759.7,1479.7 764.8,1480.4 770.0,1475.6 775.2,1469.5 780.3,1467.4 785.5,1470.9 790.7,1474.6 795.8,1474.2 801.0,1475.6 806.2,1477.3 811.3,1475.6 816.5,1473.2 821.7,1473.2 826.8,1474.2 832.0,1470.9 837.2,1466.2 842.3,1468.0 847.5,1470.5 852.7,1468.8 857.8,1466.4 863.0,1465.8 868.2,1466.2 873.3,1466.8 878.5,1467.8 883.7,1472.1 888.8,1477.1 894.0,1481.4 899.2,1486.9 904.3,1492.1 909.5,1495.2 914.7,1497.6 919.8,1499.9 925.0,1502.4 930.2,1505.0 935.3,1506.9 940.5,1504.8 945.7,1497.6 950.8,1484.9 956.0,1468.4 961.2,1453.0 966.3,1439.6 971.5,1425.2 976.7,1414.3 981.8,1412.5 987.0,1418.0 992.2,1429.4 997.3,1446.8 1002.5,1467.4 1007.7,1485.9 1012.8,1498.3 1018.0,1502.8 1023.2,1499.9 1028.3,1496.2 1033.5,1488.6 1038.7,1478.7 1043.8,1477.1 1049.0,1485.9 1054.2,1494.8 1059.3,1500.3 1064.5,1504.0 1069.7,1505.5 1074.8,1501.3 1080.0,1491.1 1085.2,1480.4 1090.3,1470.9 1095.5,1460.2 1100.7,1450.3 1105.8,1447.5 1111.0,1450.9 1116.2,1452.6 1121.3,1453.6 1126.5,1458.1 1131.7,1465.3 1136.8,1468.2 1142.0,1467.8 1147.2,1468.8 1152.3,1472.1 1157.5,1475.0 1162.7,1476.5 1167.8,1478.3 1173.0,1481.2 1178.2,1483.4 1183.3,1484.9 1188.5,1483.9 1193.7,1481.8 1198.8,1479.1 1204.0,1476.5 1209.2,1476.7 1214.3,1478.3 1219.5,1478.7 1224.7,1475.0 1229.8,1470.5 1235.0,1469.9 1240.2,1470.9 1245.3,1470.9 1250.5,1469.9 1255.7,1469.5 1260.8,1472.5 1266.0,1476.7 1271.2,1478.7 1276.3,1478.3 1281.5,1476.7 1286.7,1474.2 1291.8,1471.5 1297.0,1470.9 1302.2,1473.2 1307.3,1473.6 1312.5,1471.5 1317.7,1469.9 1322.8,1468.2 1328.0,1470.5 1333.2,1475.6 1338.3,1477.7 1343.5,1476.9 1348.7,1475.6 1353.8,1473.6 1359.0,1473.2 1364.2,1476.7 1369.3,1481.2 1374.5,1480.4 1379.7,1476.0 1384.8,1475.2 1390.0,1477.3 1395.2,1479.3 1400.3,1481.2 1405.5,1481.2 1410.7,1478.3 1415.8,1474.2 1421.0,1472.5 1426.2,1474.2 1431.3,1476.0 1436.5,1475.0 1441.7,1473.0 1446.8,1471.1 1452.0,1469.9 1457.2,1469.7 1462.3,1470.5 1467.5,1470.5 1472.7,1469.5 1477.8,1470.5 1483.0,1473.0 1488.2,1472.5 1493.3,1471.1 1498.5,1470.9 1503.7,1470.9 1508.8,1473.6 1514.0,1477.7 1519.2,1477.3 1524.3,1475.6 1529.5,1477.7 1534.7,1480.4 1539.8,1481.2 1545.0,1481.8 1550.2,1482.4 1555.3,1479.7 1560.5,1475.6 1565.7,1473.6 1570.8,1471.5 1576.0,1470.1 1581.2,1471.1 1586.3,1472.5 1591.5,1469.9 1596.7,1465.8 1601.8,1467.4 1607.0,1469.5 1612.2,1467.8 1617.3,1466.0 1622.5,1467.4 1627.7,1471.5 1632.8,1475.2 1638.0,1477.7 1643.2,1479.3 1648.3,1479.7 1653.5,1478.3 1658.7,1475.6 1663.8,1473.6 1669.0,1474.4 1674.2,1474.0 1679.3,1470.9 1684.5,1468.0 1689.7,1467.6 1694.8,1470.1 1700.0,1473.2 1705.2,1476.3 1710.3,1478.3 1715.5,1477.7 1720.7,1476.7 1725.8,1476.7 1731.0,1476.0 1736.2,1475.2 1741.3,1476.0 1746.5,1476.7 1751.7,1476.5 1756.8,1476.0 1762.0,1475.2 1767.2,1473.6 1772.3,1472.1 1777.5,1473.2 1782.7,1475.6 1787.8,1477.7 1793.0,1478.7 1798.2,1478.7 1803.3,1475.6 1808.5,1470.5 1813.7,1469.5 1818.8,1473.0 1824.0,1476.3 1829.2,1475.0 1834.3,1469.5 1839.5,1466.8 1844.7,1468.4 1849.8,1471.5 1855.0,1476.0 1860.2,1481.2 1865.3,1481.2 1870.5,1476.0 1875.7,1474.0 1880.8,1477.3 1886.0,1479.7 1891.2,1479.7 1896.3,1479.7 1901.5,1478.9 1906.7,1477.5 1911.8,1475.8 1917.0,1474.0 1922.2,1471.5 1927.3,1469.5 1932.5,1469.5 1937.7,1471.9 1942.8,1474.6 1948.0,1474.6 1953.2,1471.1 1958.3,1469.5 1963.5,1471.5 1968.7,1474.2 1973.8,1474.6 1979.0,1474.6 1984.2,1476.0 1989.3,1474.6 1994.5,1473.0 1999.7,1475.6 2004.8,1478.7 2010.0,1481.2 2015.2,1481.4 2020.3,1477.7 2025.5,1473.0 2030.7,1471.5 2035.8,1473.6 2041.0,1476.0 2046.2,1477.7 2051.3,1476.7 2056.5,1472.1 2061.7,1468.0 2066.8,1470.1 2072.0,1472.5 2077.2,1470.9 2082.3,1469.5 2087.5,1473.2 2092.7,1475.2 2097.8,1473.2 2103.0,1472.8 2108.2,1473.6 2112.5,1473.6"/>
<polyline class="o" points="305.0,1469.0 310.2,1472.0 315.3,1474.5 320.5,1474.9 325.7,1473.5 330.8,1472.0 336.0,1471.6 341.2,1471.8 346.3,1473.5 351.5,1476.2 356.7,1477.6 361.8,1477.2 367.0,1476.2 372.2,1475.9 377.3,1474.1 382.5,1471.0 387.7,1470.0 392.8,1472.5 398.0,1476.6 403.2,1475.5 408.3,1472.9 413.5,1471.0 418.7,1470.4 423.8,1472.0 429.0,1474.9 434.2,1475.7 439.3,1475.3 444.5,1476.2 449.7,1477.2 454.8,1474.9 460.0,1471.0 465.2,1471.6 470.3,1475.5 475.5,1477.6 480.7,1476.2 485.8,1477.2 491.0,1480.1 496.2,1477.2 501.3,1470.0 506.5,1469.0 511.7,1473.5 516.8,1475.3 522.0,1474.9 527.2,1477.0 532.3,1478.2 537.5,1476.6 542.7,1474.9 547.8,1472.0 553.0,1470.4 558.2,1474.1 563.3,1477.6 568.5,1474.5 573.7,1469.8 578.8,1469.8 584.0,1473.9 589.2,1475.1 594.3,1473.1 599.5,1474.1 604.7,1477.2 609.8,1476.6 615.0,1473.5 620.2,1472.5 625.3,1473.5 630.5,1474.5 635.7,1475.3 640.8,1476.2 646.0,1474.5 651.2,1468.3 656.3,1463.2 661.5,1466.9 666.7,1477.6 671.8,1486.4 677.0,1490.3 682.2,1484.8 687.3,1465.3 692.5,1459.1 697.7,1478.2 702.8,1484.8 708.0,1472.0 713.2,1470.4 718.3,1481.7 723.5,1489.9 728.7,1484.8 733.8,1470.4 739.0,1460.7 744.2,1460.1 749.3,1466.3 754.5,1474.7 759.7,1478.6 764.8,1474.1 770.0,1471.8 775.2,1477.6 780.3,1482.7 785.5,1479.7 790.7,1472.9 795.8,1464.8 801.0,1461.5 806.2,1469.4 811.3,1477.6 816.5,1478.2 821.7,1475.3 826.8,1475.1 832.0,1476.2 837.2,1475.3 842.3,1473.1 847.5,1471.0 852.7,1468.3 857.8,1465.7 863.0,1469.0 868.2,1477.2 873.3,1484.2 878.5,1482.3 883.7,1477.2 888.8,1477.6 894.0,1482.1 899.2,1481.3 904.3,1472.9 909.5,1465.3 914.7,1463.2 919.8,1463.8 925.0,1464.2 930.2,1468.3 935.3,1475.1 940.5,1479.7 945.7,1479.2 950.8,1474.5 956.0,1471.0 961.2,1474.1 966.3,1479.2 971.5,1477.6 976.7,1470.0 981.8,1471.8 987.0,1482.3 992.2,1487.3 997.3,1480.1 1002.5,1472.0 1007.7,1466.7 1012.8,1464.6 1018.0,1469.8 1023.2,1481.3 1028.3,1491.6 1033.5,1488.5 1038.7,1477.6 1043.8,1471.8 1049.0,1473.9 1054.2,1474.1 1059.3,1466.9 1064.5,1460.5 1069.7,1465.9 1074.8,1477.0 1080.0,1480.1 1085.2,1476.2 1090.3,1474.9 1095.5,1477.6 1100.7,1482.7 1105.8,1487.3 1111.0,1489.3 1116.2,1487.9 1121.3,1487.3 1126.5,1488.3 1131.7,1487.9 1136.8,1486.8 1142.0,1485.8 1147.2,1481.7 1152.3,1473.5 1157.5,1463.2 1162.7,1450.9 1167.8,1436.5 1173.0,1423.1 1178.2,1414.4 1183.3,1412.4 1188.5,1416.9 1193.7,1429.3 1198.8,1447.8 1204.0,1471.4 1209.2,1496.3 1214.3,1506.8 1219.5,1509.5 1224.7,1513.2 1229.8,1517.7 1235.0,1518.7 1240.2,1510.5 1245.3,1502.3 1250.5,1498.8 1255.7,1495.5 1260.8,1490.3 1266.0,1487.5 1271.2,1486.8 1276.3,1482.7 1281.5,1472.5 1286.7,1462.2 1291.8,1459.5 1297.0,1461.8 1302.2,1461.8 1307.3,1459.9 1312.5,1460.1 1317.7,1464.2 1322.8,1468.7 1328.0,1466.9 1333.2,1458.7 1338.3,1454.3 1343.5,1457.6 1348.7,1464.8 1353.8,1472.0 1359.0,1479.0 1364.2,1484.8 1369.3,1488.9 1374.5,1491.6 1379.7,1488.3 1384.8,1480.3 1390.0,1473.5 1395.2,1466.9 1400.3,1460.5 1405.5,1458.1 1410.7,1460.1 1415.8,1464.2 1421.0,1467.7 1426.2,1469.0 1431.3,1473.5 1436.5,1483.8 1441.7,1490.3 1446.8,1489.5 1452.0,1489.9 1457.2,1490.6 1462.3,1487.5 1467.5,1483.4 1472.7,1479.7 1477.8,1474.5 1483.0,1469.8 1488.2,1466.7 1493.3,1464.6 1498.5,1463.4 1503.7,1463.4 1508.8,1465.3 1514.0,1466.7 1519.2,1464.2 1524.3,1463.4 1529.5,1466.9 1534.7,1467.9 1539.8,1466.7 1545.0,1469.0 1550.2,1473.9 1555.3,1478.6 1560.5,1480.3 1565.7,1478.2 1570.8,1477.6 1576.0,1481.1 1581.2,1483.4 1586.3,1480.1 1591.5,1476.2 1596.7,1477.0 1601.8,1480.7 1607.0,1483.8 1612.2,1484.2 1617.3,1481.7 1622.5,1477.2 1627.7,1472.0 1632.8,1467.9 1638.0,1468.3 1643.2,1471.0 1648.3,1471.8 1653.5,1472.5 1658.7,1473.5 1663.8,1474.9 1669.0,1478.0 1674.2,1481.1 1679.3,1479.7 1684.5,1475.5 1689.7,1472.9 1694.8,1473.1 1700.0,1473.5 1705.2,1468.7 1710.3,1464.2 1715.5,1467.7 1720.7,1471.4 1725.8,1469.4 1731.0,1465.9 1736.2,1467.7 1741.3,1470.0 1746.5,1471.4 1751.7,1473.5 1756.8,1475.1 1762.0,1474.9 1767.2,1473.3 1772.3,1472.9 1777.5,1473.9 1782.7,1476.6 1787.8,1479.2 1793.0,1477.6 1798.2,1475.9 1803.3,1480.7 1808.5,1487.3 1813.7,1491.0 1818.8,1488.9 1824.0,1483.1 1829.2,1476.2 1834.3,1472.0 1839.5,1471.8 1844.7,1472.0 1849.8,1471.0 1855.0,1470.4 1860.2,1469.4 1865.3,1469.2 1870.5,1471.4 1875.7,1473.9 1880.8,1474.5 1886.0,1472.9 1891.2,1467.9 1896.3,1465.0 1901.5,1467.7 1906.7,1470.4 1911.8,1471.8 1917.0,1474.1 1922.2,1477.0 1927.3,1479.0 1932.5,1479.2 1937.7,1479.4 1942.8,1480.7 1948.0,1480.7 1953.2,1478.6 1958.3,1479.4 1963.5,1481.7 1968.7,1478.2 1973.8,1473.5 1979.0,1473.3 1984.2,1472.9 1989.3,1469.4 1994.5,1466.3 1999.7,1466.9 2004.8,1471.4 2010.0,1478.6 2015.2,1481.7 2020.3,1479.0 2025.5,1474.5 2030.7,1473.1 2035.8,1474.5 2041.0,1477.0 2046.2,1477.6 2051.3,1475.3 2056.5,1474.5 2061.7,1474.9 2066.8,1472.9 2072.0,1473.1 2077.2,1477.0 2082.3,1478.0 2087.5,1477.2 2092.7,1478.2 2097.8,1479.0 2103.0,1474.9 2108.2,1470.0 2112.5,1469.8"/>
<polyline class="o" points="305.0,1473.1 310.2,1474.2 315.3,1475.2 320.5,1475.6 325.7,1474.6 330.8,1472.9 336.0,1473.1 341.2,1475.2 346.3,1476.6 351.5,1474.6 356.7,1473.1 361.8,1474.4 367.0,1475.4 372.2,1475.0 377.3,1474.4 382.5,1473.9 387.7,1473.1 392.8,1472.1 398.0,1472.5 403.2,1474.2 408.3,1476.0 413.5,1475.8 418.7,1474.4 423.8,1473.3 429.0,1473.7 434.2,1474.4 439.3,1474.6 444.5,1473.9 449.7,1473.9 454.8,1475.0 460.0,1475.8 465.2,1475.2 470.3,1474.2 475.5,1473.5 480.7,1473.1 485.8,1473.9 491.0,1475.4 496.2,1476.4 501.3,1475.0 506.5,1473.3 511.7,1474.4 516.8,1475.6 522.0,1473.5 527.2,1469.8 532.3,1468.4 537.5,1470.9 542.7,1475.2 547.8,1477.2 553.0,1475.6 558.2,1474.2 563.3,1476.0 568.5,1478.7 573.7,1478.1 578.8,1475.2 584.0,1474.4 589.2,1475.2 594.3,1475.6 599.5,1475.0 604.7,1475.0 609.8,1475.6 615.0,1476.0 620.2,1475.6 625.3,1474.6 630.5,1473.1 635.7,1471.9 640.8,1470.0 646.0,1465.9 651.2,1461.2 656.3,1461.6 661.5,1469.4 666.7,1479.3 671.8,1485.9 677.0,1486.3 682.2,1477.6 687.3,1470.9 692.5,1471.5 697.7,1473.9 702.8,1476.6 708.0,1481.8 713.2,1485.9 718.3,1485.5 723.5,1483.4 728.7,1475.6 733.8,1465.9 739.0,1461.2 744.2,1463.7 749.3,1467.4 754.5,1469.4 759.7,1470.9 764.8,1475.0 770.0,1479.1 775.2,1481.3 780.3,1482.4 785.5,1479.1 790.7,1472.1 795.8,1465.3 801.0,1462.8 806.2,1465.9 811.3,1472.5 816.5,1478.3 821.7,1480.9 826.8,1480.9 832.0,1479.9 837.2,1478.9 842.3,1477.2 847.5,1475.6 852.7,1476.2 857.8,1478.3 863.0,1478.3 868.2,1473.5 873.3,1469.4 878.5,1470.0 883.7,1472.3 888.8,1471.5 894.0,1468.8 899.2,1468.2 904.3,1471.5 909.5,1475.6 914.7,1478.3 919.8,1478.3 925.0,1475.0 930.2,1470.9 935.3,1468.4 940.5,1466.7 945.7,1465.7 950.8,1467.0 956.0,1471.5 961.2,1476.6 966.3,1480.7 971.5,1483.8 976.7,1485.9 981.8,1486.3 987.0,1484.4 992.2,1481.1 997.3,1477.0 1002.5,1473.5 1007.7,1472.9 1012.8,1474.2 1018.0,1475.2 1023.2,1476.2 1028.3,1478.1 1033.5,1478.5 1038.7,1477.6 1043.8,1476.0 1049.0,1473.1 1054.2,1468.0 1059.3,1462.8 1064.5,1461.2 1069.7,1461.8 1074.8,1463.2 1080.0,1466.5 1085.2,1470.4 1090.3,1473.7 1095.5,1476.2 1100.7,1476.6 1105.8,1476.2 1111.0,1477.2 1116.2,1479.7 1121.3,1481.1 1126.5,1481.3 1131.7,1481.8 1136.8,1481.3 1142.0,1478.3 1147.2,1473.9 1152.3,1469.4 1157.5,1464.9 1162.7,1462.4 1167.8,1463.9 1173.0,1468.8 1178.2,1474.6 1183.3,1479.3 1188.5,1482.4 1193.7,1483.2 1198.8,1481.3 1204.0,1478.7 1209.2,1474.8 1214.3,1471.5 1219.5,1468.6 1224.7,1468.2 1229.8,1472.1 1235.0,1477.6 1240.2,1479.3 1245.3,1478.1 1250.5,1478.7 1255.7,1480.3 1260.8,1481.1 1266.0,1480.5 1271.2,1480.3 1276.3,1482.8 1281.5,1487.5 1286.7,1491.6 1291.8,1494.1 1297.0,1494.1 1302.2,1493.1 1307.3,1492.5 1312.5,1490.4 1317.7,1484.8 1322.8,1475.2 1328.0,1462.2 1333.2,1446.8 1338.3,1434.5 1343.5,1425.2 1348.7,1418.6 1353.8,1414.3 1359.0,1412.9 1364.2,1417.4 1369.3,1428.3 1374.5,1444.7 1379.7,1464.3 1384.8,1483.8 1390.0,1499.2 1395.2,1508.5 1400.3,1512.6 1405.5,1511.2 1410.7,1506.4 1415.8,1499.2 1421.0,1489.0 1426.2,1480.3 1431.3,1480.1 1436.5,1485.9 1441.7,1494.1 1446.8,1501.7 1452.0,1508.1 1457.2,1511.0 1462.3,1507.9 1467.5,1498.2 1472.7,1484.8 1477.8,1473.5 1483.0,1467.4 1488.2,1467.0 1493.3,1471.5 1498.5,1480.7 1503.7,1491.0 1508.8,1498.8 1514.0,1501.7 1519.2,1498.2 1524.3,1487.9 1529.5,1473.5 1534.7,1457.5 1539.8,1441.7 1545.0,1428.3 1550.2,1420.1 1555.3,1417.4 1560.5,1418.6 1565.7,1421.1 1570.8,1425.2 1576.0,1431.4 1581.2,1439.6 1586.3,1447.8 1591.5,1457.1 1596.7,1467.8 1601.8,1479.7 1607.0,1490.6 1612.2,1499.2 1617.3,1504.4 1622.5,1507.1 1627.7,1507.9 1632.8,1506.4 1638.0,1501.3 1643.2,1494.1 1648.3,1487.9 1653.5,1485.3 1658.7,1484.8 1663.8,1486.3 1669.0,1490.0 1674.2,1496.2 1679.3,1498.8 1684.5,1496.2 1689.7,1491.4 1694.8,1486.3 1700.0,1479.7 1705.2,1470.4 1710.3,1462.2 1715.5,1458.1 1720.7,1457.1 1725.8,1457.7 1731.0,1459.8 1736.2,1463.7 1741.3,1468.8 1746.5,1472.5 1751.7,1472.9 1756.8,1470.9 1762.0,1468.6 1767.2,1467.8 1772.3,1468.0 1777.5,1467.4 1782.7,1465.7 1787.8,1464.9 1793.0,1468.4 1798.2,1472.5 1803.3,1475.0 1808.5,1475.2 1813.7,1474.6 1818.8,1476.0 1824.0,1478.1 1829.2,1477.6 1834.3,1473.5 1839.5,1469.4 1844.7,1469.8 1849.8,1473.5 1855.0,1474.2 1860.2,1470.4 1865.3,1468.6 1870.5,1473.1 1875.7,1477.6 1880.8,1476.8 1886.0,1475.6 1891.2,1476.0 1896.3,1477.0 1901.5,1478.1 1906.7,1479.3 1911.8,1480.3 1917.0,1480.3 1922.2,1480.7 1927.3,1483.4 1932.5,1485.3 1937.7,1485.3 1942.8,1485.1 1948.0,1484.2 1953.2,1482.2 1958.3,1479.3 1963.5,1475.6 1968.7,1471.9 1973.8,1469.6 1979.0,1468.4 1984.2,1467.0 1989.3,1465.7 1994.5,1465.3 1999.7,1465.7 2004.8,1464.5 2010.0,1461.8 2015.2,1460.6 2020.3,1462.2 2025.5,1463.9 2030.7,1464.5 2035.8,1465.3 2041.0,1467.4 2046.2,1471.1 2051.3,1473.9 2056.5,1476.2 2061.7,1479.1 2066.8,1481.8 2072.0,1482.6 2077.2,1482.4 2082.3,1483.4 2087.5,1485.5 2092.7,1486.7 2097.8,1484.4 2103.0,1481.1 2108.2,1479.7 2112.5,1479.7"/>
<polyline class="o" points="305.0,1474.3 310.2,1473.7 315.3,1474.1 320.5,1475.3 325.7,1475.9 330.8,1474.7 336.0,1473.3 341.2,1473.9 346.3,1475.3 351.5,1475.9 356.7,1474.9 361.8,1473.7 367.0,1473.5 372.2,1474.3 377.3,1475.3 382.5,1475.7 387.7,1474.5 392.8,1472.9 398.0,1472.4 403.2,1473.7 408.3,1474.7 413.5,1475.1 418.7,1474.9 423.8,1474.3 429.0,1473.1 434.2,1471.6 439.3,1471.8 444.5,1473.9 449.7,1476.4 454.8,1477.0 460.0,1474.9 465.2,1473.1 470.3,1473.7 475.5,1475.1 480.7,1476.1 485.8,1475.9 491.0,1474.5 496.2,1473.5 501.3,1473.9 506.5,1474.7 511.7,1474.9 516.8,1474.7 522.0,1474.5 527.2,1475.1 532.3,1475.7 537.5,1475.3 542.7,1473.9 547.8,1472.9 553.0,1472.9 558.2,1473.7 563.3,1474.5 568.5,1474.5 573.7,1473.9 578.8,1473.5 584.0,1474.1 589.2,1475.1 594.3,1475.3 599.5,1474.7 604.7,1474.3 609.8,1474.9 615.0,1475.7 620.2,1475.5 625.3,1474.7 630.5,1473.7 635.7,1472.6 640.8,1472.0 646.0,1471.0 651.2,1468.4 656.3,1468.1 661.5,1474.7 666.7,1481.1 671.8,1483.5 677.0,1482.5 682.2,1478.0 687.3,1470.6 692.5,1469.2 697.7,1475.7 702.8,1477.4 708.0,1475.9 713.2,1478.4 718.3,1479.4 723.5,1475.9 728.7,1470.8 733.8,1465.7 739.0,1463.6 744.2,1466.1 749.3,1469.8 754.5,1473.1 759.7,1475.3 764.8,1477.4 770.0,1479.8 775.2,1482.1 780.3,1482.1 785.5,1476.4 790.7,1469.8 795.8,1467.7 801.0,1469.2 806.2,1471.2 811.3,1472.9 816.5,1474.3 821.7,1475.7 826.8,1477.0 832.0,1477.0 837.2,1476.8 842.3,1477.8 847.5,1478.4 852.7,1477.6 857.8,1475.9 863.0,1473.9 868.2,1471.6 873.3,1469.8 878.5,1469.4 883.7,1469.4 888.8,1469.2 894.0,1470.2 899.2,1472.2 904.3,1474.3 909.5,1475.7 914.7,1476.1 919.8,1475.5 925.0,1474.3 930.2,1472.6 935.3,1471.4 940.5,1471.6 945.7,1473.1 950.8,1474.7 956.0,1476.1 961.2,1477.4 966.3,1478.0 971.5,1478.0 976.7,1479.0 981.8,1480.5 987.0,1480.1 992.2,1476.4 997.3,1473.3 1002.5,1472.9 1007.7,1474.1 1012.8,1475.1 1018.0,1475.7 1023.2,1475.9 1028.3,1475.5 1033.5,1474.7 1038.7,1473.9 1043.8,1472.9 1049.0,1468.5 1054.2,1464.6 1059.3,1467.7 1064.5,1471.8 1069.7,1474.1 1074.8,1473.5 1080.0,1470.6 1085.2,1468.1 1090.3,1468.1 1095.5,1470.8 1100.7,1474.3 1105.8,1478.4 1111.0,1482.1 1116.2,1485.2 1121.3,1486.0 1126.5,1484.2 1131.7,1480.9 1136.8,1476.8 1142.0,1470.2 1147.2,1463.6 1152.3,1461.7 1157.5,1464.6 1162.7,1468.5 1167.8,1472.6 1173.0,1476.4 1178.2,1479.4 1183.3,1480.5 1188.5,1479.0 1193.7,1476.8 1198.8,1475.9 1204.0,1475.7 1209.2,1473.1 1214.3,1470.2 1219.5,1470.6 1224.7,1473.3 1229.8,1474.7 1235.0,1474.7 1240.2,1476.4 1245.3,1479.4 1250.5,1482.9 1255.7,1485.6 1260.8,1485.4 1266.0,1485.2 1271.2,1487.7 1276.3,1490.7 1281.5,1493.2 1286.7,1492.4 1291.8,1488.7 1297.0,1483.5 1302.2,1478.4 1307.3,1472.2 1312.5,1464.4 1317.7,1455.8 1322.8,1447.1 1328.0,1438.3 1333.2,1430.7 1338.3,1425.3 1343.5,1422.9 1348.7,1422.9 1353.8,1426.0 1359.0,1433.2 1364.2,1446.5 1369.3,1464.0 1374.5,1484.6 1379.7,1504.1 1384.8,1519.5 1390.0,1530.2 1395.2,1535.6 1400.3,1533.9 1405.5,1525.7 1410.7,1511.3 1415.8,1494.9 1421.0,1481.5 1426.2,1472.6 1431.3,1467.7 1436.5,1467.5 1441.7,1469.8 1446.8,1472.2 1452.0,1472.2 1457.2,1469.8 1462.3,1467.1 1467.5,1465.2 1472.7,1464.0 1477.8,1461.3 1483.0,1460.5 1488.2,1465.0 1493.3,1472.9 1498.5,1479.8 1503.7,1484.2 1508.8,1486.6 1514.0,1487.0 1519.2,1485.0 1524.3,1480.5 1529.5,1474.7 1534.7,1468.1 1539.8,1462.0 1545.0,1456.2 1550.2,1451.7 1555.3,1450.0 1560.5,1452.3 1565.7,1456.8 1570.8,1460.5 1576.0,1464.0 1581.2,1468.7 1586.3,1473.7 1591.5,1477.4 1596.7,1479.4 1601.8,1482.5 1607.0,1486.6 1612.2,1490.3 1617.3,1491.4 1622.5,1491.2 1627.7,1490.7 1632.8,1489.7 1638.0,1486.6 1643.2,1481.9 1648.3,1476.8 1653.5,1472.2 1658.7,1470.2 1663.8,1469.8 1669.0,1470.6 1674.2,1472.2 1679.3,1475.3 1684.5,1478.8 1689.7,1481.5 1694.8,1480.5 1700.0,1476.4 1705.2,1471.8 1710.3,1468.7 1715.5,1467.7 1720.7,1467.1 1725.8,1467.5 1731.0,1470.2 1736.2,1474.3 1741.3,1477.8 1746.5,1478.4 1751.7,1476.8 1756.8,1475.1 1762.0,1474.7 1767.2,1474.3 1772.3,1472.9 1777.5,1470.8 1782.7,1469.4 1787.8,1468.1 1793.0,1467.1 1798.2,1466.3 1803.3,1466.3 1808.5,1467.1 1813.7,1467.7 1818.8,1468.5 1824.0,1470.8 1829.2,1473.9 1834.3,1476.8 1839.5,1478.8 1844.7,1480.5 1849.8,1481.1 1855.0,1480.5 1860.2,1478.8 1865.3,1478.4 1870.5,1479.0 1875.7,1478.0 1880.8,1474.7 1886.0,1471.2 1891.2,1469.6 1896.3,1471.2 1901.5,1474.3 1906.7,1476.8 1911.8,1478.4 1917.0,1480.1 1922.2,1482.1 1927.3,1482.9 1932.5,1481.9 1937.7,1479.4 1942.8,1477.0 1948.0,1474.3 1953.2,1471.8 1958.3,1469.6 1963.5,1468.7 1968.7,1468.5 1973.8,1469.2 1979.0,1470.6 1984.2,1471.4 1989.3,1471.2 1994.5,1470.4 1999.7,1470.2 2004.8,1470.0 2010.0,1469.6 2015.2,1468.7 2020.3,1468.1 2025.5,1468.5 2030.7,1470.2 2035.8,1473.3 2041.0,1476.4 2046.2,1478.4 2051.3,1479.6 2056.5,1480.1 2061.7,1480.1 2066.8,1479.2 2072.0,1477.8 2077.2,1476.4 2082.3,1475.5 2087.5,1474.7 2092.7,1473.5 2097.8,1474.3 2103.0,1476.8 2108.2,1479.0 2112.5,1478.8"/>
<polyline class="b" points="305.0,1469.8 310.2,1478.4 315.3,1477.0 320.5,1477.0 325.7,1479.7 330.8,1476.4 336.0,1468.8 341.2,1467.1 346.3,1472.3 351.5,1477.0 356.7,1479.0 361.8,1482.1 367.0,1485.6 372.2,1480.1 377.3,1470.4 382.5,1469.8 387.7,1477.4 392.8,1479.0 398.0,1472.9 403.2,1468.8 408.3,1469.8 413.5,1470.2 418.7,1471.4 423.8,1474.9 429.0,1479.7 434.2,1480.1 439.3,1472.3 444.5,1464.7 449.7,1466.1 454.8,1476.4 460.0,1483.2 465.2,1480.1 470.3,1476.0 475.5,1472.5 480.7,1468.8 485.8,1468.8 491.0,1475.3 496.2,1480.5 501.3,1477.6 506.5,1470.8 511.7,1465.1 516.8,1464.7 522.0,1471.2 527.2,1479.7 532.3,1482.8 537.5,1477.6 542.7,1470.8 547.8,1468.8 553.0,1470.4 558.2,1472.9 563.3,1475.3 568.5,1475.6 573.7,1472.3 578.8,1470.8 584.0,1474.3 589.2,1479.7 594.3,1484.2 599.5,1487.9 604.7,1484.2 609.8,1472.3 615.0,1464.2 620.2,1468.1 625.3,1476.0 630.5,1482.8 635.7,1484.6 640.8,1475.6 646.0,1466.3 651.2,1465.3 656.3,1467.1 661.5,1466.3 666.7,1472.9 671.8,1480.1 677.0,1485.8 682.2,1480.5 687.3,1468.8 692.5,1460.9 697.7,1466.7 702.8,1476.6 708.0,1478.6 713.2,1480.1 718.3,1486.7 723.5,1489.7 728.7,1480.7 733.8,1466.3 739.0,1457.5 744.2,1459.9 749.3,1466.1 754.5,1471.4 759.7,1478.0 764.8,1483.8 770.0,1480.1 775.2,1472.5 780.3,1469.4 785.5,1467.7 790.7,1464.0 795.8,1463.6 801.0,1471.9 806.2,1482.8 811.3,1487.7 816.5,1485.8 821.7,1480.7 826.8,1473.9 832.0,1471.4 837.2,1475.6 842.3,1475.6 847.5,1467.7 852.7,1464.0 857.8,1469.8 863.0,1476.4 868.2,1479.5 873.3,1481.1 878.5,1478.0 883.7,1473.3 888.8,1471.2 894.0,1469.4 899.2,1468.1 904.3,1471.2 909.5,1474.9 914.7,1473.5 919.8,1471.2 925.0,1474.3 930.2,1475.6 935.3,1469.2 940.5,1467.7 945.7,1474.5 950.8,1476.4 956.0,1470.2 961.2,1469.8 966.3,1476.6 971.5,1481.1 976.7,1481.7 981.8,1478.6 987.0,1471.4 992.2,1468.1 997.3,1473.5 1002.5,1477.4 1007.7,1472.9 1012.8,1467.1 1018.0,1466.3 1023.2,1470.8 1028.3,1477.4 1033.5,1484.2 1038.7,1488.3 1043.8,1486.7 1049.0,1481.5 1054.2,1478.0 1059.3,1478.6 1064.5,1481.3 1069.7,1481.7 1074.8,1478.4 1080.0,1477.2 1085.2,1481.5 1090.3,1486.2 1095.5,1486.2 1100.7,1481.7 1105.8,1474.9 1111.0,1469.2 1116.2,1464.7 1121.3,1456.4 1126.5,1446.5 1131.7,1442.4 1136.8,1444.7 1142.0,1441.0 1147.2,1425.6 1152.3,1414.7 1157.5,1421.5 1162.7,1437.9 1167.8,1454.4 1173.0,1473.9 1178.2,1504.8 1183.3,1528.0 1188.5,1536.0 1193.7,1534.0 1198.8,1525.3 1204.0,1513.0 1209.2,1499.0 1214.3,1489.7 1219.5,1482.8 1224.7,1484.6 1229.8,1492.4 1235.0,1499.2 1240.2,1498.6 1245.3,1491.4 1250.5,1481.7 1255.7,1473.9 1260.8,1466.3 1266.0,1458.1 1271.2,1454.4 1276.3,1455.4 1281.5,1450.7 1286.7,1438.3 1291.8,1431.1 1297.0,1433.8 1302.2,1439.6 1307.3,1444.7 1312.5,1449.8 1317.7,1456.8 1322.8,1466.3 1328.0,1474.3 1333.2,1482.1 1338.3,1495.5 1343.5,1504.1 1348.7,1499.6 1353.8,1494.1 1359.0,1493.4 1364.2,1491.8 1369.3,1487.3 1374.5,1480.7 1379.7,1476.4 1384.8,1475.6 1390.0,1473.3 1395.2,1468.1 1400.3,1466.7 1405.5,1468.8 1410.7,1469.8 1415.8,1470.2 1421.0,1472.9 1426.2,1473.9 1431.3,1468.8 1436.5,1462.0 1441.7,1460.9 1446.8,1470.4 1452.0,1480.5 1457.2,1481.1 1462.3,1480.7 1467.5,1487.7 1472.7,1493.9 1477.8,1485.8 1483.0,1470.4 1488.2,1464.7 1493.3,1461.6 1498.5,1458.1 1503.7,1462.0 1508.8,1470.4 1514.0,1476.6 1519.2,1479.0 1524.3,1480.1 1529.5,1478.0 1534.7,1471.9 1539.8,1465.7 1545.0,1466.7 1550.2,1472.5 1555.3,1470.4 1560.5,1461.2 1565.7,1458.9 1570.8,1463.2 1576.0,1469.8 1581.2,1479.0 1586.3,1490.4 1591.5,1494.5 1596.7,1491.8 1601.8,1486.9 1607.0,1481.7 1612.2,1480.1 1617.3,1481.5 1622.5,1482.1 1627.7,1480.7 1632.8,1477.4 1638.0,1470.4 1643.2,1464.7 1648.3,1464.7 1653.5,1468.1 1658.7,1468.8 1663.8,1463.6 1669.0,1460.1 1674.2,1462.2 1679.3,1468.4 1684.5,1472.5 1689.7,1470.8 1694.8,1469.8 1700.0,1475.6 1705.2,1481.7 1710.3,1484.2 1715.5,1483.0 1720.7,1483.0 1725.8,1484.2 1731.0,1482.1 1736.2,1476.0 1741.3,1472.3 1746.5,1474.3 1751.7,1478.6 1756.8,1479.0 1762.0,1473.9 1767.2,1470.8 1772.3,1473.1 1777.5,1475.1 1782.7,1472.3 1787.8,1468.1 1793.0,1469.8 1798.2,1474.3 1803.3,1470.4 1808.5,1458.9 1813.7,1454.4 1818.8,1459.5 1824.0,1468.8 1829.2,1474.3 1834.3,1476.0 1839.5,1477.2 1844.7,1479.0 1849.8,1477.6 1855.0,1472.9 1860.2,1471.4 1865.3,1472.5 1870.5,1471.4 1875.7,1473.5 1880.8,1479.0 1886.0,1479.7 1891.2,1477.0 1896.3,1479.0 1901.5,1484.6 1906.7,1486.2 1911.8,1479.0 1917.0,1470.2 1922.2,1468.4 1927.3,1473.5 1932.5,1477.0 1937.7,1473.5 1942.8,1465.7 1948.0,1463.2 1953.2,1467.7 1958.3,1473.5 1963.5,1478.0 1968.7,1478.4 1973.8,1475.3 1979.0,1473.9 1984.2,1478.0 1989.3,1483.8 1994.5,1483.2 1999.7,1475.6 2004.8,1469.4 2010.0,1469.8 2015.2,1477.6 2020.3,1484.2 2025.5,1482.1 2030.7,1477.6 2035.8,1476.0 2041.0,1476.0 2046.2,1472.3 2051.3,1464.7 2056.5,1463.6 2061.7,1470.8 2066.8,1474.3 2072.0,1470.2 2077.2,1467.3 2082.3,1471.9 2087.5,1476.6 2092.7,1477.6 2097.8,1474.5 2103.0,1470.8 2108.2,1471.4 2112.5,1474.3"/>
<polyline class="b" points="305.0,237.0 310.2,245.6 315.3,244.2 320.5,244.2 325.7,246.9 330.8,243.6 336.0,236.0 341.2,234.3 346.3,239.5 351.5,244.2 356.7,246.2 361.8,249.3 367.0,252.8 372.2,247.3 377.3,237.6 382.5,237.0 387.7,244.6 392.8,246.2 398.0,240.1 403.2,236.0 408.3,237.0 413.5,237.4 418.7,238.6 423.8,242.1 429.0,246.9 434.2,247.3 439.3,239.5 444.5,231.9 449.7,233.3 454.8,243.6 460.0,250.4 465.2,247.3 470.3,243.2 475.5,239.7 480.7,236.0 485.8,236.0 491.0,242.5 496.2,247.7 501.3,244.8 506.5,238.0 511.7,232.3 516.8,231.9 522.0,238.4 527.2,246.9 532.3,250.0 537.5,244.8 542.7,238.0 547.8,236.0 553.0,237.6 558.2,240.1 563.3,242.5 568.5,242.8 573.7,239.5 578.8,238.0 584.0,241.5 589.2,246.9 594.3,251.4 599.5,255.1 604.7,251.4 609.8,239.5 615.0,231.4 620.2,235.3 625.3,243.2 630.5,250.0 635.7,251.8 640.8,242.8 646.0,233.5 651.2,232.5 656.3,234.3 661.5,233.5 666.7,240.1 671.8,247.3 677.0,253.0 682.2,247.7 687.3,236.0 692.5,228.1 697.7,233.9 702.8,243.8 708.0,245.8 713.2,247.3 718.3,253.9 723.5,256.9 728.7,247.9 733.8,233.5 739.0,224.7 744.2,227.1 749.3,233.3 754.5,238.6 759.7,245.2 764.8,251.0 770.0,247.3 775.2,239.7 780.3,236.6 785.5,234.9 790.7,231.2 795.8,230.8 801.0,239.1 806.2,250.0 811.3,254.9 816.5,253.0 821.7,247.9 826.8,241.1 832.0,238.6 837.2,242.8 842.3,242.8 847.5,234.9 852.7,231.2 857.8,237.0 863.0,243.6 868.2,246.7 873.3,248.3 878.5,245.2 883.7,240.5 888.8,238.4 894.0,236.6 899.2,235.3 904.3,238.4 909.5,242.1 914.7,240.7 919.8,238.4 925.0,241.5 930.2,242.8 935.3,236.4 940.5,234.9 945.7,241.7 950.8,243.6 956.0,237.4 961.2,237.0 966.3,243.8 971.5,248.3 976.7,248.9 981.8,245.8 987.0,238.6 992.2,235.3 997.3,240.7 1002.5,244.6 1007.7,240.1 1012.8,234.3 1018.0,233.5 1023.2,238.0 1028.3,244.6 1033.5,251.4 1038.7,255.5 1043.8,253.9 1049.0,248.7 1054.2,245.2 1059.3,245.8 1064.5,248.5 1069.7,248.9 1074.8,245.6 1080.0,244.4 1085.2,248.7 1090.3,253.4 1095.5,253.4 1100.7,248.9 1105.8,242.1 1111.0,236.4 1116.2,231.9 1121.3,223.6 1126.5,213.8 1131.7,209.6 1136.8,211.9 1142.0,208.2 1147.2,192.8 1152.3,181.9 1157.5,188.7 1162.7,205.1 1167.8,221.6 1173.0,241.1 1178.2,272.0 1183.3,295.2 1188.5,303.2 1193.7,301.2 1198.8,292.5 1204.0,280.2 1209.2,266.2 1214.3,256.9 1219.5,250.0 1224.7,251.8 1229.8,259.6 1235.0,266.4 1240.2,265.8 1245.3,258.6 1250.5,248.9 1255.7,241.1 1260.8,233.5 1266.0,225.3 1271.2,221.6 1276.3,222.6 1281.5,217.9 1286.7,205.5 1291.8,198.3 1297.0,201.0 1302.2,206.8 1307.3,211.9 1312.5,217.0 1317.7,224.0 1322.8,233.5 1328.0,241.5 1333.2,249.3 1338.3,262.7 1343.5,271.3 1348.7,266.8 1353.8,261.3 1359.0,260.6 1364.2,259.0 1369.3,254.5 1374.5,247.9 1379.7,243.6 1384.8,242.8 1390.0,240.5 1395.2,235.3 1400.3,233.9 1405.5,236.0 1410.7,237.0 1415.8,237.4 1421.0,240.1 1426.2,241.1 1431.3,236.0 1436.5,229.2 1441.7,228.1 1446.8,237.6 1452.0,247.7 1457.2,248.3 1462.3,247.9 1467.5,254.9 1472.7,261.1 1477.8,253.0 1483.0,237.6 1488.2,231.9 1493.3,228.8 1498.5,225.3 1503.7,229.2 1508.8,237.6 1514.0,243.8 1519.2,246.2 1524.3,247.3 1529.5,245.2 1534.7,239.1 1539.8,232.9 1545.0,233.9 1550.2,239.7 1555.3,237.6 1560.5,228.4 1565.7,226.1 1570.8,230.4 1576.0,237.0 1581.2,246.2 1586.3,257.6 1591.5,261.7 1596.7,259.0 1601.8,254.1 1607.0,248.9 1612.2,247.3 1617.3,248.7 1622.5,249.3 1627.7,247.9 1632.8,244.6 1638.0,237.6 1643.2,231.9 1648.3,231.9 1653.5,235.3 1658.7,236.0 1663.8,230.8 1669.0,227.3 1674.2,229.4 1679.3,235.6 1684.5,239.7 1689.7,238.0 1694.8,237.0 1700.0,242.8 1705.2,248.9 1710.3,251.4 1715.5,250.2 1720.7,250.2 1725.8,251.4 1731.0,249.3 1736.2,243.2 1741.3,239.5 1746.5,241.5 1751.7,245.8 1756.8,246.2 1762.0,241.1 1767.2,238.0 1772.3,240.3 1777.5,242.3 1782.7,239.5 1787.8,235.3 1793.0,237.0 1798.2,241.5 1803.3,237.6 1808.5,226.1 1813.7,221.6 1818.8,226.7 1824.0,236.0 1829.2,241.5 1834.3,243.2 1839.5,244.4 1844.7,246.2 1849.8,244.8 1855.0,240.1 1860.2,238.6 1865.3,239.7 1870.5,238.6 1875.7,240.7 1880.8,246.2 1886.0,246.9 1891.2,244.2 1896.3,246.2 1901.5,251.8 1906.7,253.4 1911.8,246.2 1917.0,237.4 1922.2,235.6 1927.3,240.7 1932.5,244.2 1937.7,240.7 1942.8,232.9 1948.0,230.4 1953.2,234.9 1958.3,240.7 1963.5,245.2 1968.7,245.6 1973.8,242.5 1979.0,241.1 1984.2,245.2 1989.3,251.0 1994.5,250.4 1999.7,242.8 2004.8,236.6 2010.0,237.0 2015.2,244.8 2020.3,251.4 2025.5,249.3 2030.7,244.8 2035.8,243.2 2041.0,243.2 2046.2,239.5 2051.3,231.9 2056.5,230.8 2061.7,238.0 2066.8,241.5 2072.0,237.4 2077.2,234.5 2082.3,239.1 2087.5,243.8 2092.7,244.8 2097.8,241.7 2103.0,238.0 2108.2,238.6 2112.5,241.5"/>
<polyline class="g" points="305.0,353.2 310.2,347.6 315.3,341.9 320.5,340.3 325.7,350.1 330.8,361.4 336.0,358.4 341.2,350.5 346.3,358.4 351.5,371.7 356.7,364.1 361.8,341.5 367.0,339.8 372.2,355.3 377.3,363.1 382.5,352.2 387.7,345.6 392.8,352.8 398.0,358.8 403.2,354.2 408.3,348.5 413.5,349.5 418.7,353.2 423.8,352.2 429.0,351.2 434.2,356.7 439.3,364.1 444.5,358.8 449.7,343.5 454.8,340.3 460.0,354.7 465.2,363.5 470.3,354.2 475.5,345.4 480.7,346.8 485.8,353.8 491.0,354.2 496.2,347.0 501.3,346.8 506.5,358.4 511.7,365.6 516.8,359.0 522.0,351.8 527.2,350.9 532.3,349.7 537.5,345.0 542.7,346.4 547.8,357.7 553.0,363.1 558.2,353.2 563.3,346.4 568.5,355.3 573.7,362.5 578.8,357.3 584.0,351.2 589.2,349.7 594.3,351.4 599.5,354.2 604.7,356.3 609.8,352.6 615.0,347.7 620.2,350.1 625.3,355.7 630.5,358.8 635.7,356.7 640.8,352.2 646.0,349.1 651.2,347.7 656.3,345.6 661.5,344.0 666.7,349.5 671.8,360.8 677.0,367.6 682.2,363.5 687.3,352.2 692.5,341.9 697.7,342.3 702.8,350.1 708.0,356.7 713.2,365.6 718.3,377.3 723.5,376.9 728.7,361.4 733.8,344.4 739.0,331.6 744.2,327.5 749.3,338.8 754.5,353.2 759.7,355.9 764.8,353.8 770.0,357.3 775.2,361.9 780.3,360.4 785.5,356.3 790.7,349.5 795.8,341.5 801.0,342.9 806.2,352.6 811.3,359.4 816.5,362.5 821.7,363.5 826.8,360.0 832.0,355.3 837.2,351.2 842.3,345.0 847.5,340.3 852.7,344.0 857.8,351.6 863.0,359.4 868.2,367.6 873.3,374.2 878.5,368.2 883.7,352.6 888.8,340.9 894.0,341.3 899.2,347.5 904.3,348.5 909.5,349.1 914.7,351.2 919.8,350.7 925.0,351.2 930.2,353.6 935.3,354.2 940.5,359.4 945.7,370.1 950.8,365.6 956.0,350.1 961.2,343.3 966.3,346.0 971.5,349.1 976.7,350.7 981.8,351.2 987.0,349.5 992.2,346.6 997.3,351.6 1002.5,364.9 1007.7,370.3 1012.8,359.4 1018.0,348.7 1023.2,345.4 1028.3,346.6 1033.5,344.0 1038.7,342.5 1043.8,350.7 1049.0,365.1 1054.2,379.3 1059.3,382.0 1064.5,373.8 1069.7,362.1 1074.8,351.8 1080.0,346.0 1085.2,348.7 1090.3,355.9 1095.5,362.9 1100.7,366.0 1105.8,363.1 1111.0,353.6 1116.2,344.0 1121.3,338.8 1126.5,334.7 1131.7,327.5 1136.8,322.4 1142.0,319.3 1147.2,309.0 1152.3,300.8 1157.5,309.6 1162.7,322.4 1167.8,328.9 1173.0,342.9 1178.2,374.8 1183.3,401.6 1188.5,415.3 1193.7,413.3 1198.8,402.6 1204.0,391.3 1209.2,378.9 1214.3,365.6 1219.5,350.7 1224.7,355.3 1229.8,370.1 1235.0,374.8 1240.2,369.1 1245.3,367.0 1250.5,368.6 1255.7,363.9 1260.8,356.3 1266.0,347.0 1271.2,335.7 1276.3,326.5 1281.5,321.7 1286.7,319.7 1291.8,320.9 1297.0,324.4 1302.2,323.4 1307.3,318.9 1312.5,316.4 1317.7,320.3 1322.8,333.7 1328.0,349.7 1333.2,361.9 1338.3,373.2 1343.5,384.1 1348.7,391.3 1353.8,390.9 1359.0,384.7 1364.2,374.2 1369.3,362.5 1374.5,354.9 1379.7,357.7 1384.8,363.1 1390.0,357.9 1395.2,347.7 1400.3,348.1 1405.5,354.2 1410.7,352.8 1415.8,345.0 1421.0,338.8 1426.2,335.3 1431.3,333.7 1436.5,338.4 1441.7,348.7 1446.8,357.7 1452.0,357.7 1457.2,353.6 1462.3,355.7 1467.5,361.4 1472.7,364.1 1477.8,364.1 1483.0,364.5 1488.2,358.4 1493.3,346.6 1498.5,344.0 1503.7,349.5 1508.8,350.5 1514.0,347.0 1519.2,346.0 1524.3,350.7 1529.5,357.9 1534.7,362.1 1539.8,359.8 1545.0,354.2 1550.2,350.1 1555.3,349.1 1560.5,347.7 1565.7,344.0 1570.8,338.2 1576.0,336.1 1581.2,346.0 1586.3,361.4 1591.5,374.2 1596.7,372.1 1601.8,359.4 1607.0,351.4 1612.2,352.8 1617.3,355.7 1622.5,356.7 1627.7,358.4 1632.8,362.9 1638.0,366.2 1643.2,359.0 1648.3,351.2 1653.5,350.1 1658.7,350.1 1663.8,345.4 1669.0,344.0 1674.2,346.6 1679.3,349.1 1684.5,347.7 1689.7,345.4 1694.8,346.0 1700.0,350.7 1705.2,357.7 1710.3,363.1 1715.5,361.0 1720.7,356.9 1725.8,360.8 1731.0,364.5 1736.2,357.7 1741.3,351.2 1746.5,352.8 1751.7,358.4 1756.8,360.0 1762.0,356.3 1767.2,350.5 1772.3,348.1 1777.5,349.1 1782.7,351.8 1787.8,356.7 1793.0,360.8 1798.2,354.2 1803.3,345.4 1808.5,347.5 1813.7,354.9 1818.8,353.2 1824.0,347.5 1829.2,345.6 1834.3,345.6 1839.5,347.5 1844.7,352.6 1849.8,357.9 1855.0,359.0 1860.2,357.9 1865.3,356.3 1870.5,351.6 1875.7,347.0 1880.8,347.0 1886.0,348.7 1891.2,351.8 1896.3,357.3 1901.5,361.4 1906.7,360.8 1911.8,357.3 1917.0,352.6 1922.2,352.8 1927.3,358.4 1932.5,356.7 1937.7,346.0 1942.8,340.5 1948.0,346.0 1953.2,352.2 1958.3,352.6 1963.5,351.6 1968.7,352.8 1973.8,357.7 1979.0,363.5 1984.2,362.1 1989.3,355.7 1994.5,356.3 1999.7,362.1 2004.8,361.4 2010.0,355.3 2015.2,353.2 2020.3,351.6 2025.5,347.5 2030.7,352.6 2035.8,362.5 2041.0,360.0 2046.2,347.5 2051.3,342.9 2056.5,348.1 2061.7,351.2 2066.8,347.0 2072.0,342.3 2077.2,344.0 2082.3,350.7 2087.5,354.2 2092.7,351.4 2097.8,356.3 2103.0,366.2 2108.2,362.5 2112.5,351.2"/>
<polyline class="g" points="305.0,473.3 310.2,473.9 315.3,466.1 320.5,457.9 325.7,457.5 330.8,462.0 336.0,466.7 341.2,472.3 346.3,475.4 351.5,474.3 356.7,472.3 361.8,469.2 367.0,463.4 372.2,458.3 377.3,459.3 382.5,462.6 387.7,463.4 392.8,463.4 398.0,464.7 403.2,466.3 408.3,465.7 413.5,463.6 418.7,464.1 423.8,465.3 429.0,464.9 434.2,463.2 439.3,462.0 444.5,463.6 449.7,467.8 454.8,470.6 460.0,471.2 465.2,470.2 470.3,467.5 475.5,463.6 480.7,461.0 485.8,461.6 491.0,464.5 496.2,466.1 501.3,465.5 506.5,465.5 511.7,467.5 516.8,468.2 522.0,465.1 527.2,462.6 532.3,462.0 537.5,461.0 542.7,460.8 547.8,461.4 553.0,461.6 558.2,462.4 563.3,466.7 568.5,472.9 573.7,476.4 578.8,472.9 584.0,467.5 589.2,464.1 594.3,461.8 599.5,461.4 604.7,464.1 609.8,466.1 615.0,467.5 620.2,468.2 625.3,467.1 630.5,464.5 635.7,461.0 640.8,457.9 646.0,457.5 651.2,460.3 656.3,465.1 661.5,470.2 666.7,476.0 671.8,478.4 677.0,475.8 682.2,470.8 687.3,464.7 692.5,458.9 697.7,457.5 702.8,461.0 708.0,464.5 713.2,467.8 718.3,470.2 723.5,469.8 728.7,465.7 733.8,461.0 739.0,455.8 744.2,451.3 749.3,451.3 754.5,457.5 759.7,464.1 764.8,466.1 770.0,465.7 775.2,464.5 780.3,463.6 785.5,465.7 790.7,467.3 795.8,467.1 801.0,468.2 806.2,471.2 811.3,471.9 816.5,469.2 821.7,467.1 826.8,468.2 832.0,469.8 837.2,469.4 842.3,467.8 847.5,466.1 852.7,464.1 857.8,462.0 863.0,460.8 868.2,461.0 873.3,462.0 878.5,462.0 883.7,460.6 888.8,457.9 894.0,454.8 899.2,453.8 904.3,455.4 909.5,459.9 914.7,467.1 919.8,473.3 925.0,486.1 930.2,499.4 935.3,509.7 940.5,514.0 945.7,512.8 950.8,506.2 956.0,491.8 961.2,471.2 966.3,450.7 971.5,430.1 976.7,416.7 981.8,403.4 987.0,404.8 992.2,413.7 997.3,419.8 1002.5,427.0 1007.7,439.4 1012.8,451.7 1018.0,458.9 1023.2,462.0 1028.3,465.1 1033.5,467.1 1038.7,470.2 1043.8,478.4 1049.0,490.2 1054.2,502.1 1059.3,512.0 1064.5,516.1 1069.7,512.8 1074.8,503.1 1080.0,490.8 1085.2,477.8 1090.3,468.2 1095.5,461.0 1100.7,451.7 1105.8,443.1 1111.0,439.0 1116.2,440.4 1121.3,443.5 1126.5,444.1 1131.7,443.5 1136.8,446.6 1142.0,451.1 1147.2,453.4 1152.3,455.8 1157.5,463.0 1162.7,470.8 1167.8,475.4 1173.0,479.9 1178.2,485.2 1183.3,488.3 1188.5,486.3 1193.7,483.0 1198.8,478.4 1204.0,471.2 1209.2,462.4 1214.3,459.9 1219.5,461.0 1224.7,462.4 1229.8,461.0 1235.0,457.9 1240.2,456.6 1245.3,457.1 1250.5,458.3 1255.7,458.9 1260.8,457.9 1266.0,456.9 1271.2,456.9 1276.3,457.9 1281.5,462.0 1286.7,468.2 1291.8,474.7 1297.0,478.9 1302.2,478.0 1307.3,474.7 1312.5,471.9 1317.7,469.8 1322.8,470.2 1328.0,472.3 1333.2,473.3 1338.3,470.2 1343.5,466.1 1348.7,463.6 1353.8,463.4 1359.0,464.5 1364.2,465.1 1369.3,462.0 1374.5,458.3 1379.7,456.9 1384.8,456.4 1390.0,456.2 1395.2,457.5 1400.3,459.9 1405.5,462.4 1410.7,464.1 1415.8,465.7 1421.0,467.8 1426.2,468.2 1431.3,466.5 1436.5,466.1 1441.7,467.5 1446.8,469.2 1452.0,470.2 1457.2,470.2 1462.3,469.2 1467.5,467.3 1472.7,466.1 1477.8,465.7 1483.0,463.4 1488.2,458.9 1493.3,458.9 1498.5,463.0 1503.7,467.5 1508.8,467.8 1514.0,467.1 1519.2,467.1 1524.3,467.5 1529.5,467.3 1534.7,467.8 1539.8,468.8 1545.0,469.8 1550.2,470.2 1555.3,468.8 1560.5,465.1 1565.7,460.3 1570.8,457.5 1576.0,459.9 1581.2,464.1 1586.3,466.5 1591.5,464.5 1596.7,461.0 1601.8,459.3 1607.0,460.3 1612.2,462.6 1617.3,464.7 1622.5,465.7 1627.7,466.1 1632.8,467.8 1638.0,469.4 1643.2,469.2 1648.3,467.8 1653.5,467.8 1658.7,468.8 1663.8,469.2 1669.0,468.6 1674.2,469.4 1679.3,470.2 1684.5,468.6 1689.7,466.1 1694.8,463.6 1700.0,462.4 1705.2,463.6 1710.3,464.1 1715.5,461.0 1720.7,458.9 1725.8,460.6 1731.0,462.6 1736.2,463.0 1741.3,463.4 1746.5,464.7 1751.7,465.1 1756.8,463.0 1762.0,462.4 1767.2,464.1 1772.3,465.1 1777.5,463.6 1782.7,462.4 1787.8,463.0 1793.0,463.6 1798.2,463.4 1803.3,464.1 1808.5,466.5 1813.7,469.0 1818.8,468.6 1824.0,467.8 1829.2,470.2 1834.3,473.3 1839.5,473.9 1844.7,471.2 1849.8,467.8 1855.0,466.1 1860.2,465.1 1865.3,464.3 1870.5,463.4 1875.7,462.4 1880.8,461.8 1886.0,461.4 1891.2,461.2 1896.3,461.4 1901.5,461.8 1906.7,463.0 1911.8,465.5 1917.0,466.5 1922.2,464.1 1927.3,461.8 1932.5,464.7 1937.7,469.0 1942.8,469.8 1948.0,468.4 1953.2,468.2 1958.3,469.2 1963.5,469.8 1968.7,469.8 1973.8,470.2 1979.0,469.8 1984.2,467.8 1989.3,466.7 1994.5,466.1 1999.7,464.5 2004.8,462.8 2010.0,463.0 2015.2,463.6 2020.3,463.0 2025.5,461.6 2030.7,462.6 2035.8,464.5 2041.0,464.7 2046.2,464.1 2051.3,463.4 2056.5,463.6 2061.7,465.1 2066.8,467.5 2072.0,469.2 2077.2,469.0 2082.3,465.7 2087.5,461.8 2092.7,461.4 2097.8,464.7 2103.0,466.1 2108.2,465.7 2112.5,465.5"/>
<polyline class="g" points="305.0,578.6 310.2,574.7 315.3,573.5 320.5,580.7 325.7,588.1 330.8,584.4 336.0,573.7 341.2,565.9 346.3,563.8 351.5,565.9 356.7,575.1 361.8,587.5 367.0,594.3 372.2,587.9 377.3,574.7 382.5,571.0 387.7,577.8 392.8,584.8 398.0,582.7 403.2,577.2 408.3,575.1 413.5,577.2 418.7,578.6 423.8,575.5 429.0,570.4 434.2,569.0 439.3,571.4 444.5,574.1 449.7,577.8 454.8,578.4 460.0,577.6 465.2,580.3 470.3,582.9 475.5,581.3 480.7,579.2 485.8,577.8 491.0,577.8 496.2,578.2 501.3,577.8 506.5,579.7 511.7,580.7 516.8,577.8 522.0,575.1 527.2,577.2 532.3,578.6 537.5,577.2 542.7,578.2 547.8,579.9 553.0,578.4 558.2,579.2 563.3,581.7 568.5,580.3 573.7,575.7 578.8,571.4 584.0,570.4 589.2,572.7 594.3,574.7 599.5,577.6 604.7,579.7 609.8,579.7 615.0,579.2 620.2,576.8 625.3,570.6 630.5,569.0 635.7,575.1 640.8,582.9 646.0,586.4 651.2,582.3 656.3,575.7 661.5,575.7 666.7,583.4 671.8,591.2 677.0,591.0 682.2,582.7 687.3,574.7 692.5,568.3 697.7,566.5 702.8,576.8 708.0,587.1 713.2,585.4 718.3,581.3 723.5,579.2 728.7,571.0 733.8,559.1 739.0,554.1 744.2,562.8 749.3,575.1 754.5,583.8 759.7,587.5 764.8,588.5 770.0,589.1 775.2,588.1 780.3,584.4 785.5,580.3 790.7,574.1 795.8,566.5 801.0,565.9 806.2,572.7 811.3,580.3 816.5,585.4 821.7,586.9 826.8,583.4 832.0,577.2 837.2,571.6 842.3,571.0 847.5,573.7 852.7,576.2 857.8,577.6 863.0,574.7 868.2,572.0 873.3,577.6 878.5,585.0 883.7,586.4 888.8,582.9 894.0,576.8 899.2,569.4 904.3,567.9 909.5,572.5 914.7,576.2 919.8,575.1 925.0,569.6 930.2,567.9 935.3,575.1 940.5,582.9 945.7,587.5 950.8,587.9 956.0,587.1 961.2,591.2 966.3,589.5 971.5,580.3 976.7,576.8 981.8,576.2 987.0,575.5 992.2,576.2 997.3,574.5 1002.5,570.6 1007.7,570.4 1012.8,577.2 1018.0,583.8 1023.2,582.9 1028.3,578.8 1033.5,575.5 1038.7,571.6 1043.8,571.0 1049.0,573.5 1054.2,571.6 1059.3,565.9 1064.5,564.2 1069.7,571.6 1074.8,580.7 1080.0,581.9 1085.2,582.3 1090.3,585.8 1095.5,589.5 1100.7,589.9 1105.8,582.3 1111.0,572.0 1116.2,564.8 1121.3,564.8 1126.5,573.7 1131.7,584.4 1136.8,588.9 1142.0,580.3 1147.2,568.3 1152.3,566.9 1157.5,575.5 1162.7,582.7 1167.8,586.4 1173.0,587.9 1178.2,586.4 1183.3,586.9 1188.5,591.6 1193.7,595.1 1198.8,594.3 1204.0,592.0 1209.2,582.9 1214.3,573.1 1219.5,554.6 1224.7,541.2 1229.8,530.9 1235.0,525.1 1240.2,530.3 1245.3,544.3 1250.5,562.8 1255.7,585.4 1260.8,609.1 1266.0,627.6 1271.2,636.8 1276.3,639.3 1281.5,632.1 1286.7,614.2 1291.8,589.5 1297.0,566.9 1302.2,546.7 1307.3,531.5 1312.5,524.1 1317.7,532.3 1322.8,552.5 1328.0,572.5 1333.2,584.0 1338.3,585.0 1343.5,583.4 1348.7,578.2 1353.8,568.5 1359.0,559.7 1364.2,560.7 1369.3,569.0 1374.5,576.2 1379.7,582.3 1384.8,590.6 1390.0,599.2 1395.2,606.0 1400.3,608.0 1405.5,603.9 1410.7,599.8 1415.8,595.1 1421.0,584.4 1426.2,570.0 1431.3,556.2 1436.5,544.7 1441.7,543.9 1446.8,557.6 1452.0,575.1 1457.2,588.9 1462.3,597.1 1467.5,598.4 1472.7,592.6 1477.8,583.4 1483.0,578.6 1488.2,577.8 1493.3,577.2 1498.5,575.1 1503.7,571.6 1508.8,569.0 1514.0,569.4 1519.2,575.1 1524.3,581.7 1529.5,582.3 1534.7,580.7 1539.8,579.2 1545.0,576.2 1550.2,572.5 1555.3,569.0 1560.5,565.9 1565.7,565.3 1570.8,567.9 1576.0,572.0 1581.2,574.7 1586.3,576.6 1591.5,578.2 1596.7,574.1 1601.8,571.6 1607.0,576.6 1612.2,581.9 1617.3,581.3 1622.5,578.6 1627.7,575.1 1632.8,572.7 1638.0,576.2 1643.2,583.4 1648.3,587.1 1653.5,587.5 1658.7,586.4 1663.8,583.6 1669.0,580.9 1674.2,582.7 1679.3,589.5 1684.5,595.1 1689.7,593.2 1694.8,583.4 1700.0,575.1 1705.2,573.7 1710.3,572.7 1715.5,571.4 1720.7,571.0 1725.8,569.0 1731.0,565.9 1736.2,564.4 1741.3,565.9 1746.5,568.1 1751.7,568.5 1756.8,565.9 1762.0,564.8 1767.2,570.6 1772.3,579.2 1777.5,584.4 1782.7,586.0 1787.8,588.1 1793.0,589.1 1798.2,584.4 1803.3,576.8 1808.5,572.0 1813.7,571.6 1818.8,576.2 1824.0,582.3 1829.2,583.8 1834.3,579.2 1839.5,575.5 1844.7,574.7 1849.8,577.2 1855.0,581.7 1860.2,586.9 1865.3,588.9 1870.5,586.4 1875.7,579.7 1880.8,570.6 1886.0,567.3 1891.2,575.7 1896.3,584.0 1901.5,585.8 1906.7,580.3 1911.8,573.5 1917.0,571.0 1922.2,578.2 1927.3,586.9 1932.5,588.1 1937.7,578.2 1942.8,568.5 1948.0,568.5 1953.2,573.7 1958.3,575.1 1963.5,573.5 1968.7,571.6 1973.8,572.0 1979.0,578.6 1984.2,584.0 1989.3,578.8 1994.5,573.7 1999.7,577.6 2004.8,584.4 2010.0,587.1 2015.2,584.0 2020.3,577.6 2025.5,573.5 2030.7,573.1 2035.8,575.1 2041.0,576.6 2046.2,575.7 2051.3,573.1 2056.5,571.0 2061.7,572.5 2066.8,574.1 2072.0,574.5 2077.2,575.7 2082.3,579.7 2087.5,582.3 2092.7,578.2 2097.8,574.5 2103.0,578.8 2108.2,586.0 2112.5,586.9"/>
<polyline class="g" points="305.0,693.2 310.2,695.8 315.3,692.8 320.5,688.6 325.7,687.0 330.8,688.6 336.0,692.8 341.2,695.2 346.3,693.8 351.5,690.1 356.7,686.0 361.8,685.6 367.0,690.1 372.2,692.1 377.3,687.0 382.5,684.3 387.7,689.7 392.8,692.8 398.0,685.3 403.2,679.8 408.3,684.5 413.5,691.1 418.7,689.5 423.8,686.6 429.0,690.7 434.2,695.2 439.3,692.5 444.5,688.0 449.7,687.6 454.8,689.5 460.0,690.1 465.2,690.7 470.3,691.1 475.5,689.1 480.7,686.6 485.8,688.6 491.0,692.5 496.2,692.1 501.3,688.0 506.5,684.5 511.7,683.9 516.8,686.0 522.0,688.0 527.2,688.6 532.3,688.6 537.5,690.1 542.7,692.1 547.8,692.1 553.0,690.5 558.2,690.1 563.3,690.1 568.5,689.7 573.7,691.7 578.8,695.2 584.0,694.6 589.2,692.1 594.3,691.5 599.5,690.1 604.7,687.6 609.8,687.4 615.0,689.7 620.2,691.1 625.3,689.1 630.5,689.1 635.7,692.1 640.8,690.7 646.0,686.0 651.2,682.9 656.3,681.2 661.5,683.5 666.7,691.1 671.8,698.3 677.0,696.9 682.2,689.1 687.3,681.4 692.5,679.8 697.7,684.9 702.8,690.1 708.0,693.8 713.2,699.3 718.3,706.1 723.5,706.5 728.7,697.3 733.8,682.9 739.0,670.5 744.2,668.5 749.3,678.8 754.5,691.1 759.7,697.9 764.8,697.9 770.0,697.5 775.2,695.8 780.3,688.6 785.5,679.4 790.7,678.1 795.8,687.4 801.0,696.9 806.2,700.0 811.3,696.9 816.5,694.6 821.7,692.5 826.8,688.4 832.0,685.3 837.2,683.9 842.3,682.9 847.5,683.9 852.7,689.1 857.8,694.8 863.0,698.3 868.2,698.7 873.3,692.8 878.5,686.0 883.7,683.9 888.8,685.6 894.0,686.6 899.2,686.4 904.3,687.0 909.5,689.7 914.7,690.7 919.8,688.0 925.0,687.0 930.2,689.1 935.3,692.1 940.5,695.2 945.7,693.8 950.8,690.1 956.0,686.4 961.2,684.3 966.3,684.9 971.5,686.6 976.7,687.0 981.8,688.4 987.0,692.8 992.2,696.2 997.3,697.7 1002.5,696.2 1007.7,690.7 1012.8,684.5 1018.0,684.9 1023.2,686.0 1028.3,680.8 1033.5,676.3 1038.7,680.8 1043.8,688.0 1049.0,693.2 1054.2,695.2 1059.3,691.1 1064.5,683.3 1069.7,679.4 1074.8,681.2 1080.0,683.5 1085.2,685.3 1090.3,685.3 1095.5,684.9 1100.7,687.0 1105.8,689.7 1111.0,689.5 1116.2,689.1 1121.3,694.2 1126.5,700.0 1131.7,704.5 1136.8,708.0 1142.0,713.3 1147.2,719.5 1152.3,721.6 1157.5,717.8 1162.7,711.7 1167.8,702.4 1173.0,694.2 1178.2,681.9 1183.3,669.5 1188.5,660.3 1193.7,657.6 1198.8,661.9 1204.0,668.1 1209.2,670.5 1214.3,665.4 1219.5,660.3 1224.7,664.4 1229.8,675.1 1235.0,686.0 1240.2,695.6 1245.3,704.5 1250.5,711.1 1255.7,716.8 1260.8,722.4 1266.0,721.6 1271.2,712.7 1276.3,702.4 1281.5,694.2 1286.7,688.0 1291.8,682.9 1297.0,679.4 1302.2,680.8 1307.3,684.3 1312.5,684.1 1317.7,681.4 1322.8,680.4 1328.0,681.4 1333.2,682.9 1338.3,684.3 1343.5,686.0 1348.7,685.3 1353.8,682.9 1359.0,684.9 1364.2,692.8 1369.3,701.4 1374.5,709.2 1379.7,715.8 1384.8,718.5 1390.0,712.1 1395.2,703.0 1400.3,694.8 1405.5,681.9 1410.7,665.4 1415.8,652.6 1421.0,647.5 1426.2,650.4 1431.3,659.8 1436.5,673.2 1441.7,686.0 1446.8,696.2 1452.0,703.9 1457.2,706.1 1462.3,706.9 1467.5,711.3 1472.7,715.8 1477.8,714.8 1483.0,711.1 1488.2,708.2 1493.3,705.5 1498.5,698.9 1503.7,688.0 1508.8,678.8 1514.0,674.7 1519.2,675.1 1524.3,682.9 1529.5,692.1 1534.7,694.2 1539.8,689.1 1545.0,681.9 1550.2,675.3 1555.3,672.0 1560.5,668.5 1565.7,664.4 1570.8,663.3 1576.0,668.9 1581.2,677.7 1586.3,688.0 1591.5,697.3 1596.7,701.4 1601.8,700.0 1607.0,697.9 1612.2,697.9 1617.3,701.4 1622.5,705.5 1627.7,709.2 1632.8,708.6 1638.0,704.1 1643.2,698.7 1648.3,698.7 1653.5,700.0 1658.7,690.1 1663.8,675.7 1669.0,670.1 1674.2,674.7 1679.3,679.8 1684.5,681.2 1689.7,683.5 1694.8,692.8 1700.0,702.8 1705.2,706.9 1710.3,709.2 1715.5,710.2 1720.7,704.9 1725.8,695.6 1731.0,688.0 1736.2,684.9 1741.3,683.5 1746.5,679.8 1751.7,673.2 1756.8,665.4 1762.0,656.8 1767.2,647.9 1772.3,642.2 1777.5,640.7 1782.7,643.2 1787.8,649.6 1793.0,662.3 1798.2,680.8 1803.3,706.5 1808.5,731.6 1813.7,745.0 1818.8,749.7 1824.0,751.4 1829.2,749.3 1834.3,739.0 1839.5,722.0 1844.7,705.1 1849.8,693.8 1855.0,689.7 1860.2,688.4 1865.3,681.4 1870.5,667.5 1875.7,655.7 1880.8,648.9 1886.0,645.2 1891.2,644.8 1896.3,650.0 1901.5,658.2 1906.7,667.5 1911.8,677.7 1917.0,689.1 1922.2,701.4 1927.3,715.8 1932.5,728.8 1937.7,732.2 1942.8,731.8 1948.0,734.9 1953.2,737.4 1958.3,729.2 1963.5,711.3 1968.7,692.5 1973.8,675.7 1979.0,662.7 1984.2,654.7 1989.3,650.6 1994.5,649.4 1999.7,650.6 2004.8,659.2 2010.0,675.7 2015.2,689.5 2020.3,692.1 2025.5,690.5 2030.7,688.6 2035.8,686.6 2041.0,684.5 2046.2,683.9 2051.3,686.6 2056.5,694.2 2061.7,704.1 2066.8,712.7 2072.0,713.7 2077.2,707.2 2082.3,702.8 2087.5,700.4 2092.7,695.8 2097.8,687.0 2103.0,681.9 2108.2,681.2 2112.5,682.3"/>
<polyline class="g" points="305.0,801.8 310.2,802.2 315.3,802.8 320.5,803.4 325.7,803.6 330.8,801.8 336.0,799.1 341.2,799.7 346.3,802.2 351.5,803.2 356.7,803.8 361.8,804.9 367.0,804.7 372.2,802.6 377.3,800.7 382.5,800.7 387.7,802.0 392.8,801.8 398.0,800.3 403.2,800.1 408.3,802.2 413.5,804.2 418.7,804.9 423.8,804.2 429.0,802.4 434.2,799.5 439.3,798.1 444.5,800.1 449.7,802.8 454.8,803.2 460.0,801.8 465.2,800.1 470.3,800.1 475.5,802.6 480.7,804.4 485.8,803.8 491.0,802.2 496.2,801.2 501.3,800.7 506.5,801.2 511.7,802.2 516.8,801.6 522.0,800.1 527.2,800.5 532.3,802.2 537.5,803.0 542.7,803.0 547.8,803.2 553.0,803.0 558.2,801.4 563.3,799.7 568.5,799.1 573.7,800.1 578.8,801.8 584.0,802.8 589.2,802.8 594.3,802.4 599.5,802.2 604.7,802.0 609.8,801.6 615.0,801.4 620.2,800.7 625.3,800.1 630.5,800.1 635.7,801.2 640.8,801.8 646.0,800.7 651.2,800.1 656.3,801.6 661.5,803.8 666.7,805.7 671.8,805.7 677.0,803.6 682.2,800.7 687.3,800.1 692.5,801.2 697.7,801.8 702.8,803.2 708.0,805.9 713.2,807.9 718.3,806.3 723.5,801.2 728.7,796.4 733.8,794.4 739.0,796.0 744.2,799.1 749.3,802.6 754.5,805.7 759.7,807.9 764.8,807.9 770.0,805.3 775.2,801.2 780.3,798.5 785.5,797.2 790.7,797.7 795.8,798.7 801.0,800.5 806.2,802.6 811.3,803.6 816.5,803.0 821.7,802.6 826.8,803.0 832.0,802.6 837.2,800.9 842.3,800.7 847.5,801.8 852.7,799.1 857.8,795.4 863.0,794.6 868.2,795.2 873.3,795.6 878.5,796.4 883.7,797.0 888.8,796.6 894.0,795.4 899.2,795.4 904.3,798.1 909.5,803.2 914.7,809.4 919.8,815.1 925.0,820.3 930.2,824.8 935.3,828.9 940.5,832.4 945.7,834.5 950.8,834.3 956.0,829.5 961.2,818.6 966.3,803.2 971.5,785.7 976.7,767.2 981.8,750.8 987.0,739.9 992.2,739.9 997.3,750.8 1002.5,768.9 1007.7,789.4 1012.8,806.3 1018.0,818.6 1023.2,823.8 1028.3,820.7 1033.5,813.9 1038.7,807.7 1043.8,803.8 1049.0,803.8 1054.2,808.4 1059.3,814.5 1064.5,820.7 1069.7,826.2 1074.8,830.0 1080.0,828.9 1085.2,823.4 1090.3,814.5 1095.5,805.3 1100.7,796.6 1105.8,791.3 1111.0,788.8 1116.2,788.0 1121.3,788.4 1126.5,789.4 1131.7,791.3 1136.8,793.3 1142.0,792.9 1147.2,790.9 1152.3,789.2 1157.5,789.2 1162.7,790.5 1167.8,793.5 1173.0,799.1 1178.2,806.3 1183.3,812.1 1188.5,813.9 1193.7,813.3 1198.8,812.9 1204.0,812.9 1209.2,811.6 1214.3,809.4 1219.5,807.7 1224.7,806.3 1229.8,803.6 1235.0,800.7 1240.2,799.3 1245.3,799.1 1250.5,797.5 1255.7,795.0 1260.8,793.3 1266.0,794.0 1271.2,796.0 1276.3,796.8 1281.5,796.6 1286.7,798.1 1291.8,801.2 1297.0,804.9 1302.2,808.4 1307.3,810.2 1312.5,811.0 1317.7,811.0 1322.8,808.8 1328.0,805.7 1333.2,803.2 1338.3,802.2 1343.5,800.1 1348.7,797.5 1353.8,795.0 1359.0,794.4 1364.2,794.6 1369.3,796.0 1374.5,798.5 1379.7,800.1 1384.8,799.7 1390.0,799.7 1395.2,801.8 1400.3,803.8 1405.5,805.3 1410.7,805.7 1415.8,806.7 1421.0,807.7 1426.2,807.3 1431.3,805.9 1436.5,804.2 1441.7,803.6 1446.8,802.0 1452.0,800.1 1457.2,800.5 1462.3,801.4 1467.5,801.6 1472.7,801.4 1477.8,801.6 1483.0,801.8 1488.2,800.7 1493.3,798.9 1498.5,798.7 1503.7,800.1 1508.8,800.1 1514.0,798.5 1519.2,797.0 1524.3,797.0 1529.5,797.5 1534.7,798.5 1539.8,799.7 1545.0,801.4 1550.2,802.8 1555.3,803.4 1560.5,803.2 1565.7,803.6 1570.8,804.7 1576.0,805.1 1581.2,805.1 1586.3,805.3 1591.5,804.9 1596.7,803.8 1601.8,803.2 1607.0,802.6 1612.2,801.2 1617.3,799.7 1622.5,799.5 1627.7,800.1 1632.8,800.3 1638.0,800.3 1643.2,800.3 1648.3,799.5 1653.5,798.7 1658.7,799.5 1663.8,802.4 1669.0,802.8 1674.2,803.6 1679.3,803.8 1684.5,803.0 1689.7,801.8 1694.8,801.6 1700.0,802.2 1705.2,803.0 1710.3,803.2 1715.5,802.8 1720.7,802.6 1725.8,803.4 1731.0,803.2 1736.2,800.7 1741.3,798.7 1746.5,799.5 1751.7,800.3 1756.8,800.1 1762.0,799.5 1767.2,799.7 1772.3,800.1 1777.5,801.6 1782.7,803.4 1787.8,804.7 1793.0,804.2 1798.2,803.0 1803.3,802.4 1808.5,802.6 1813.7,802.2 1818.8,801.6 1824.0,802.0 1829.2,802.0 1834.3,801.4 1839.5,801.6 1844.7,802.4 1849.8,802.6 1855.0,801.4 1860.2,799.9 1865.3,798.7 1870.5,797.7 1875.7,797.5 1880.8,798.1 1886.0,798.5 1891.2,798.7 1896.3,799.7 1901.5,801.8 1906.7,803.2 1911.8,802.2 1917.0,801.2 1922.2,801.8 1927.3,802.4 1932.5,802.2 1937.7,802.2 1942.8,804.2 1948.0,806.1 1953.2,806.3 1958.3,805.3 1963.5,804.7 1968.7,804.7 1973.8,804.9 1979.0,804.7 1984.2,803.4 1989.3,802.0 1994.5,800.9 1999.7,799.9 2004.8,799.1 2010.0,799.1 2015.2,798.7 2020.3,797.5 2025.5,796.8 2030.7,798.7 2035.8,800.7 2041.0,800.7 2046.2,800.1 2051.3,799.5 2056.5,799.1 2061.7,799.5 2066.8,800.9 2072.0,802.6 2077.2,804.2 2082.3,805.3 2087.5,805.3 2092.7,804.0 2097.8,803.2 2103.0,803.2 2108.2,803.8 2112.5,804.7"/>
<polyline class="g" points="305.0,913.4 310.2,914.7 315.3,916.9 320.5,917.8 325.7,915.7 330.8,912.0 336.0,911.4 341.2,913.6 346.3,915.7 351.5,915.7 356.7,913.4 361.8,912.2 367.0,912.0 372.2,912.0 377.3,911.8 382.5,912.0 387.7,913.4 392.8,915.1 398.0,915.3 403.2,913.0 408.3,909.9 413.5,908.5 418.7,909.3 423.8,911.0 429.0,912.2 434.2,913.6 439.3,915.5 444.5,917.1 449.7,917.5 454.8,916.9 460.0,916.5 465.2,916.1 470.3,915.3 475.5,913.6 480.7,912.2 485.8,911.6 491.0,912.0 496.2,913.2 501.3,914.7 506.5,915.5 511.7,915.7 516.8,915.5 522.0,915.1 527.2,915.1 532.3,915.5 537.5,915.9 542.7,915.3 547.8,914.5 553.0,913.8 558.2,914.5 563.3,915.3 568.5,915.9 573.7,916.3 578.8,916.5 584.0,916.1 589.2,914.9 594.3,913.4 599.5,912.2 604.7,911.2 609.8,910.6 615.0,910.3 620.2,910.3 625.3,910.6 630.5,911.0 635.7,911.0 640.8,910.6 646.0,910.3 651.2,909.5 656.3,907.5 661.5,906.9 666.7,912.4 671.8,921.7 677.0,925.4 682.2,921.9 687.3,912.6 692.5,904.8 697.7,906.2 702.8,915.1 708.0,920.6 713.2,921.9 718.3,922.9 723.5,924.7 728.7,922.3 733.8,912.0 739.0,901.7 744.2,897.6 749.3,899.7 754.5,909.5 759.7,914.1 764.8,916.1 770.0,916.7 775.2,919.6 780.3,922.7 785.5,922.3 790.7,917.1 795.8,909.9 801.0,904.8 806.2,904.2 811.3,908.9 816.5,916.1 821.7,920.6 826.8,921.9 832.0,920.8 837.2,919.2 842.3,917.8 847.5,916.1 852.7,914.1 857.8,912.4 863.0,911.8 868.2,912.2 873.3,914.1 878.5,916.1 883.7,917.8 888.8,917.8 894.0,915.5 899.2,912.0 904.3,909.5 909.5,908.9 914.7,909.3 919.8,909.5 925.0,908.5 930.2,906.9 935.3,906.4 940.5,908.9 945.7,911.4 950.8,912.6 956.0,913.0 961.2,914.1 966.3,915.7 971.5,917.1 976.7,917.8 981.8,917.1 987.0,916.1 992.2,915.7 997.3,917.5 1002.5,920.6 1007.7,923.3 1012.8,923.5 1018.0,921.2 1023.2,918.8 1028.3,916.7 1033.5,915.1 1038.7,913.0 1043.8,910.6 1049.0,908.9 1054.2,908.3 1059.3,908.3 1064.5,908.3 1069.7,907.3 1074.8,905.4 1080.0,905.0 1085.2,906.4 1090.3,908.9 1095.5,912.0 1100.7,915.5 1105.8,917.5 1111.0,917.8 1116.2,917.1 1121.3,915.3 1126.5,912.0 1131.7,908.9 1136.8,906.6 1142.0,906.2 1147.2,908.9 1152.3,914.1 1157.5,918.8 1162.7,920.8 1167.8,920.2 1173.0,918.2 1178.2,915.7 1183.3,913.4 1188.5,912.0 1193.7,912.0 1198.8,914.1 1204.0,916.5 1209.2,920.6 1214.3,921.9 1219.5,923.1 1224.7,924.1 1229.8,924.5 1235.0,923.9 1240.2,922.3 1245.3,920.2 1250.5,918.6 1255.7,918.4 1260.8,919.4 1266.0,920.2 1271.2,920.2 1276.3,919.2 1281.5,917.3 1286.7,915.1 1291.8,912.0 1297.0,907.9 1302.2,903.4 1307.3,898.0 1312.5,891.4 1317.7,885.3 1322.8,880.7 1328.0,878.1 1333.2,877.6 1338.3,880.1 1343.5,887.3 1348.7,898.6 1353.8,912.0 1359.0,925.0 1364.2,936.7 1369.3,944.9 1374.5,948.0 1379.7,944.5 1384.8,934.6 1390.0,919.2 1395.2,902.7 1400.3,890.4 1405.5,883.8 1410.7,883.2 1415.8,889.0 1421.0,901.7 1426.2,919.2 1431.3,938.3 1436.5,952.7 1441.7,960.7 1446.8,960.9 1452.0,953.1 1457.2,940.2 1462.3,926.4 1467.5,915.1 1472.7,907.9 1477.8,906.2 1483.0,909.9 1488.2,918.6 1493.3,928.9 1498.5,937.3 1503.7,941.2 1508.8,939.4 1514.0,930.5 1519.2,914.1 1524.3,895.5 1529.5,878.1 1534.7,864.7 1539.8,856.0 1545.0,851.9 1550.2,854.0 1555.3,862.6 1560.5,877.0 1565.7,891.4 1570.8,903.8 1576.0,914.1 1581.2,921.2 1586.3,925.4 1591.5,927.0 1596.7,927.4 1601.8,927.0 1607.0,926.8 1612.2,928.4 1617.3,931.5 1622.5,935.2 1627.7,938.3 1632.8,939.8 1638.0,938.7 1643.2,935.2 1648.3,930.5 1653.5,924.3 1658.7,917.5 1663.8,911.0 1669.0,906.3 1674.2,903.8 1679.3,905.4 1684.5,908.3 1689.7,911.4 1694.8,914.1 1700.0,916.1 1705.2,917.1 1710.3,917.5 1715.5,917.3 1720.7,916.5 1725.8,915.5 1731.0,914.5 1736.2,914.1 1741.3,914.7 1746.5,915.7 1751.7,916.3 1756.8,916.1 1762.0,914.7 1767.2,912.4 1772.3,909.5 1777.5,905.8 1782.7,902.1 1787.8,898.8 1793.0,897.0 1798.2,896.2 1803.3,896.8 1808.5,899.0 1813.7,902.3 1818.8,906.2 1824.0,910.1 1829.2,914.1 1834.3,917.8 1839.5,920.8 1844.7,922.9 1849.8,924.1 1855.0,924.7 1860.2,925.4 1865.3,925.8 1870.5,926.0 1875.7,925.6 1880.8,925.0 1886.0,924.3 1891.2,923.9 1896.3,923.5 1901.5,922.9 1906.7,921.9 1911.8,920.0 1917.0,917.8 1922.2,915.1 1927.3,912.4 1932.5,909.5 1937.7,906.9 1942.8,904.4 1948.0,902.7 1953.2,901.7 1958.3,901.1 1963.5,901.1 1968.7,901.7 1973.8,902.9 1979.0,904.4 1984.2,905.8 1989.3,907.1 1994.5,908.3 1999.7,909.5 2004.8,910.8 2010.0,912.0 2015.2,913.4 2020.3,915.1 2025.5,916.7 2030.7,918.4 2035.8,919.4 2041.0,919.4 2046.2,918.8 2051.3,918.8 2056.5,919.8 2061.7,921.0 2066.8,921.7 2072.0,921.2 2077.2,919.8 2082.3,918.4 2087.5,917.5 2092.7,916.9 2097.8,916.5 2103.0,916.1 2108.2,915.1 2112.5,913.4"/>
<polyline class="g" points="305.0,1024.7 310.2,1023.1 315.3,1025.1 320.5,1028.8 325.7,1030.7 330.8,1029.2 336.0,1027.2 341.2,1024.7 346.3,1022.7 351.5,1024.5 356.7,1028.0 361.8,1027.8 367.0,1024.5 372.2,1021.8 377.3,1023.7 382.5,1027.6 387.7,1027.6 392.8,1022.7 398.0,1021.4 403.2,1025.7 408.3,1027.6 413.5,1026.4 418.7,1028.2 423.8,1030.7 429.0,1026.8 434.2,1022.7 439.3,1024.7 444.5,1028.2 449.7,1027.6 454.8,1025.1 460.0,1024.7 465.2,1026.2 470.3,1026.2 475.5,1025.1 480.7,1024.1 485.8,1022.9 491.0,1024.7 496.2,1027.8 501.3,1027.6 506.5,1025.1 511.7,1025.1 516.8,1027.2 522.0,1027.2 527.2,1025.1 532.3,1024.9 537.5,1027.2 542.7,1028.6 547.8,1026.2 553.0,1024.5 558.2,1027.6 563.3,1030.3 568.5,1027.8 573.7,1025.5 578.8,1026.2 584.0,1026.8 589.2,1025.7 594.3,1024.9 599.5,1025.1 604.7,1025.3 609.8,1025.5 615.0,1025.7 620.2,1025.9 625.3,1026.4 630.5,1026.2 635.7,1026.2 640.8,1026.6 646.0,1025.7 651.2,1022.7 656.3,1019.4 661.5,1021.6 666.7,1028.8 671.8,1033.8 677.0,1034.8 682.2,1034.4 687.3,1031.7 692.5,1026.2 697.7,1021.4 702.8,1021.6 708.0,1025.7 713.2,1026.8 718.3,1025.1 723.5,1024.7 728.7,1024.1 733.8,1022.5 739.0,1021.0 744.2,1021.4 749.3,1024.1 754.5,1028.6 759.7,1031.3 764.8,1031.9 770.0,1027.2 775.2,1021.0 780.3,1019.0 785.5,1022.5 790.7,1026.2 795.8,1025.7 801.0,1027.2 806.2,1028.8 811.3,1027.2 816.5,1024.7 821.7,1024.7 826.8,1025.7 832.0,1022.5 837.2,1017.7 842.3,1019.6 847.5,1022.0 852.7,1020.4 857.8,1017.9 863.0,1017.3 868.2,1017.7 873.3,1018.3 878.5,1019.4 883.7,1023.7 888.8,1028.6 894.0,1032.9 899.2,1038.5 904.3,1043.6 909.5,1046.7 914.7,1049.2 919.8,1051.5 925.0,1053.9 930.2,1056.6 935.3,1058.4 940.5,1056.4 945.7,1049.2 950.8,1036.4 956.0,1020.0 961.2,1004.6 966.3,991.2 971.5,976.8 976.7,965.9 981.8,964.0 987.0,969.6 992.2,980.9 997.3,998.4 1002.5,1019.0 1007.7,1037.5 1012.8,1049.8 1018.0,1054.3 1023.2,1051.5 1028.3,1047.8 1033.5,1040.1 1038.7,1030.3 1043.8,1028.6 1049.0,1037.5 1054.2,1046.3 1059.3,1051.9 1064.5,1055.6 1069.7,1057.0 1074.8,1052.9 1080.0,1042.6 1085.2,1031.9 1090.3,1022.5 1095.5,1011.8 1100.7,1001.9 1105.8,999.0 1111.0,1002.5 1116.2,1004.1 1121.3,1005.2 1126.5,1009.7 1131.7,1016.9 1136.8,1019.8 1142.0,1019.4 1147.2,1020.4 1152.3,1023.7 1157.5,1026.6 1162.7,1028.0 1167.8,1029.9 1173.0,1032.7 1178.2,1035.0 1183.3,1036.4 1188.5,1035.4 1193.7,1033.4 1198.8,1030.7 1204.0,1028.0 1209.2,1028.2 1214.3,1029.9 1219.5,1030.3 1224.7,1026.6 1229.8,1022.0 1235.0,1021.4 1240.2,1022.5 1245.3,1022.5 1250.5,1021.4 1255.7,1021.0 1260.8,1024.1 1266.0,1028.2 1271.2,1030.3 1276.3,1029.9 1281.5,1028.2 1286.7,1025.7 1291.8,1023.1 1297.0,1022.5 1302.2,1024.7 1307.3,1025.1 1312.5,1023.1 1317.7,1021.4 1322.8,1019.8 1328.0,1022.0 1333.2,1027.2 1338.3,1029.2 1343.5,1028.4 1348.7,1027.2 1353.8,1025.1 1359.0,1024.7 1364.2,1028.2 1369.3,1032.7 1374.5,1031.9 1379.7,1027.6 1384.8,1026.8 1390.0,1028.8 1395.2,1030.9 1400.3,1032.7 1405.5,1032.7 1410.7,1029.9 1415.8,1025.7 1421.0,1024.1 1426.2,1025.7 1431.3,1027.6 1436.5,1026.6 1441.7,1024.5 1446.8,1022.7 1452.0,1021.4 1457.2,1021.2 1462.3,1022.0 1467.5,1022.0 1472.7,1021.0 1477.8,1022.0 1483.0,1024.5 1488.2,1024.1 1493.3,1022.7 1498.5,1022.5 1503.7,1022.5 1508.8,1025.1 1514.0,1029.2 1519.2,1028.8 1524.3,1027.2 1529.5,1029.2 1534.7,1031.9 1539.8,1032.7 1545.0,1033.4 1550.2,1034.0 1555.3,1031.3 1560.5,1027.2 1565.7,1025.1 1570.8,1023.1 1576.0,1021.6 1581.2,1022.7 1586.3,1024.1 1591.5,1021.4 1596.7,1017.3 1601.8,1019.0 1607.0,1021.0 1612.2,1019.4 1617.3,1017.5 1622.5,1019.0 1627.7,1023.1 1632.8,1026.8 1638.0,1029.2 1643.2,1030.9 1648.3,1031.3 1653.5,1029.9 1658.7,1027.2 1663.8,1025.1 1669.0,1025.9 1674.2,1025.5 1679.3,1022.5 1684.5,1019.6 1689.7,1019.2 1694.8,1021.6 1700.0,1024.7 1705.2,1027.8 1710.3,1029.9 1715.5,1029.2 1720.7,1028.2 1725.8,1028.2 1731.0,1027.6 1736.2,1026.8 1741.3,1027.6 1746.5,1028.2 1751.7,1028.0 1756.8,1027.6 1762.0,1026.8 1767.2,1025.1 1772.3,1023.7 1777.5,1024.7 1782.7,1027.2 1787.8,1029.2 1793.0,1030.3 1798.2,1030.3 1803.3,1027.2 1808.5,1022.0 1813.7,1021.0 1818.8,1024.5 1824.0,1027.8 1829.2,1026.6 1834.3,1021.0 1839.5,1018.3 1844.7,1020.0 1849.8,1023.1 1855.0,1027.6 1860.2,1032.7 1865.3,1032.7 1870.5,1027.6 1875.7,1025.5 1880.8,1028.8 1886.0,1031.3 1891.2,1031.3 1896.3,1031.3 1901.5,1030.5 1906.7,1029.0 1911.8,1027.4 1917.0,1025.5 1922.2,1023.1 1927.3,1021.0 1932.5,1021.0 1937.7,1023.5 1942.8,1026.2 1948.0,1026.2 1953.2,1022.7 1958.3,1021.0 1963.5,1023.1 1968.7,1025.7 1973.8,1026.2 1979.0,1026.2 1984.2,1027.6 1989.3,1026.2 1994.5,1024.5 1999.7,1027.2 2004.8,1030.3 2010.0,1032.7 2015.2,1032.9 2020.3,1029.2 2025.5,1024.5 2030.7,1023.1 2035.8,1025.1 2041.0,1027.6 2046.2,1029.2 2051.3,1028.2 2056.5,1023.7 2061.7,1019.6 2066.8,1021.6 2072.0,1024.1 2077.2,1022.5 2082.3,1021.0 2087.5,1024.7 2092.7,1026.8 2097.8,1024.7 2103.0,1024.3 2108.2,1025.1 2112.5,1025.1"/>
<polyline class="g" points="305.0,1132.6 310.2,1135.6 315.3,1138.1 320.5,1138.5 325.7,1137.1 330.8,1135.6 336.0,1135.2 341.2,1135.4 346.3,1137.1 351.5,1139.8 356.7,1141.2 361.8,1140.8 367.0,1139.8 372.2,1139.5 377.3,1137.7 382.5,1134.6 387.7,1133.6 392.8,1136.1 398.0,1140.2 403.2,1139.1 408.3,1136.5 413.5,1134.6 418.7,1134.0 423.8,1135.6 429.0,1138.5 434.2,1139.3 439.3,1138.9 444.5,1139.8 449.7,1140.8 454.8,1138.5 460.0,1134.6 465.2,1135.2 470.3,1139.1 475.5,1141.2 480.7,1139.8 485.8,1140.8 491.0,1143.7 496.2,1140.8 501.3,1133.6 506.5,1132.6 511.7,1137.1 516.8,1138.9 522.0,1138.5 527.2,1140.6 532.3,1141.8 537.5,1140.2 542.7,1138.5 547.8,1135.6 553.0,1134.0 558.2,1137.7 563.3,1141.2 568.5,1138.1 573.7,1133.4 578.8,1133.4 584.0,1137.5 589.2,1138.7 594.3,1136.7 599.5,1137.7 604.7,1140.8 609.8,1140.2 615.0,1137.1 620.2,1136.1 625.3,1137.1 630.5,1138.1 635.7,1138.9 640.8,1139.8 646.0,1138.1 651.2,1131.9 656.3,1126.8 661.5,1130.5 666.7,1141.2 671.8,1150.0 677.0,1153.9 682.2,1148.4 687.3,1128.9 692.5,1122.7 697.7,1141.8 702.8,1148.4 708.0,1135.6 713.2,1134.0 718.3,1145.3 723.5,1153.5 728.7,1148.4 733.8,1134.0 739.0,1124.3 744.2,1123.7 749.3,1129.9 754.5,1138.3 759.7,1142.2 764.8,1137.7 770.0,1135.4 775.2,1141.2 780.3,1146.3 785.5,1143.2 790.7,1136.5 795.8,1128.4 801.0,1125.1 806.2,1133.0 811.3,1141.2 816.5,1141.8 821.7,1138.9 826.8,1138.7 832.0,1139.8 837.2,1138.9 842.3,1136.7 847.5,1134.6 852.7,1131.9 857.8,1129.3 863.0,1132.6 868.2,1140.8 873.3,1147.8 878.5,1145.9 883.7,1140.8 888.8,1141.2 894.0,1145.7 899.2,1144.9 904.3,1136.5 909.5,1128.9 914.7,1126.8 919.8,1127.4 925.0,1127.8 930.2,1131.9 935.3,1138.7 940.5,1143.2 945.7,1142.8 950.8,1138.1 956.0,1134.6 961.2,1137.7 966.3,1142.8 971.5,1141.2 976.7,1133.6 981.8,1135.4 987.0,1145.9 992.2,1150.9 997.3,1143.7 1002.5,1135.6 1007.7,1130.3 1012.8,1128.2 1018.0,1133.4 1023.2,1144.9 1028.3,1155.2 1033.5,1152.1 1038.7,1141.2 1043.8,1135.4 1049.0,1137.5 1054.2,1137.7 1059.3,1130.5 1064.5,1124.1 1069.7,1129.5 1074.8,1140.6 1080.0,1143.7 1085.2,1139.8 1090.3,1138.5 1095.5,1141.2 1100.7,1146.3 1105.8,1150.9 1111.0,1152.9 1116.2,1151.5 1121.3,1150.9 1126.5,1151.9 1131.7,1151.5 1136.8,1150.4 1142.0,1149.4 1147.2,1145.3 1152.3,1137.1 1157.5,1126.8 1162.7,1114.5 1167.8,1100.1 1173.0,1086.7 1178.2,1078.0 1183.3,1076.0 1188.5,1080.5 1193.7,1092.9 1198.8,1111.4 1204.0,1135.0 1209.2,1159.9 1214.3,1170.4 1219.5,1173.1 1224.7,1176.8 1229.8,1181.3 1235.0,1182.3 1240.2,1174.1 1245.3,1165.9 1250.5,1162.4 1255.7,1159.1 1260.8,1153.9 1266.0,1151.1 1271.2,1150.4 1276.3,1146.3 1281.5,1136.1 1286.7,1125.8 1291.8,1123.1 1297.0,1125.4 1302.2,1125.4 1307.3,1123.5 1312.5,1123.7 1317.7,1127.8 1322.8,1132.3 1328.0,1130.5 1333.2,1122.3 1338.3,1117.9 1343.5,1121.2 1348.7,1128.4 1353.8,1135.6 1359.0,1142.6 1364.2,1148.4 1369.3,1152.5 1374.5,1155.2 1379.7,1151.9 1384.8,1143.9 1390.0,1137.1 1395.2,1130.5 1400.3,1124.1 1405.5,1121.7 1410.7,1123.7 1415.8,1127.8 1421.0,1131.3 1426.2,1132.6 1431.3,1137.1 1436.5,1147.4 1441.7,1153.9 1446.8,1153.1 1452.0,1153.5 1457.2,1154.2 1462.3,1151.1 1467.5,1147.0 1472.7,1143.2 1477.8,1138.1 1483.0,1133.4 1488.2,1130.3 1493.3,1128.2 1498.5,1127.0 1503.7,1127.0 1508.8,1128.9 1514.0,1130.3 1519.2,1127.8 1524.3,1127.0 1529.5,1130.5 1534.7,1131.5 1539.8,1130.3 1545.0,1132.6 1550.2,1137.5 1555.3,1142.2 1560.5,1143.9 1565.7,1141.8 1570.8,1141.2 1576.0,1144.7 1581.2,1147.0 1586.3,1143.7 1591.5,1139.8 1596.7,1140.6 1601.8,1144.3 1607.0,1147.4 1612.2,1147.8 1617.3,1145.3 1622.5,1140.8 1627.7,1135.6 1632.8,1131.5 1638.0,1131.9 1643.2,1134.6 1648.3,1135.4 1653.5,1136.1 1658.7,1137.1 1663.8,1138.5 1669.0,1141.6 1674.2,1144.7 1679.3,1143.2 1684.5,1139.1 1689.7,1136.5 1694.8,1136.7 1700.0,1137.1 1705.2,1132.3 1710.3,1127.8 1715.5,1131.3 1720.7,1135.0 1725.8,1133.0 1731.0,1129.5 1736.2,1131.3 1741.3,1133.6 1746.5,1135.0 1751.7,1137.1 1756.8,1138.7 1762.0,1138.5 1767.2,1136.9 1772.3,1136.5 1777.5,1137.5 1782.7,1140.2 1787.8,1142.8 1793.0,1141.2 1798.2,1139.5 1803.3,1144.3 1808.5,1150.9 1813.7,1154.6 1818.8,1152.5 1824.0,1146.7 1829.2,1139.8 1834.3,1135.6 1839.5,1135.4 1844.7,1135.6 1849.8,1134.6 1855.0,1134.0 1860.2,1133.0 1865.3,1132.8 1870.5,1135.0 1875.7,1137.5 1880.8,1138.1 1886.0,1136.5 1891.2,1131.5 1896.3,1128.6 1901.5,1131.3 1906.7,1134.0 1911.8,1135.4 1917.0,1137.7 1922.2,1140.6 1927.3,1142.6 1932.5,1142.8 1937.7,1143.0 1942.8,1144.3 1948.0,1144.3 1953.2,1142.2 1958.3,1143.0 1963.5,1145.3 1968.7,1141.8 1973.8,1137.1 1979.0,1136.9 1984.2,1136.5 1989.3,1133.0 1994.5,1129.9 1999.7,1130.5 2004.8,1135.0 2010.0,1142.2 2015.2,1145.3 2020.3,1142.6 2025.5,1138.1 2030.7,1136.7 2035.8,1138.1 2041.0,1140.6 2046.2,1141.2 2051.3,1138.9 2056.5,1138.1 2061.7,1138.5 2066.8,1136.5 2072.0,1136.7 2077.2,1140.6 2082.3,1141.6 2087.5,1140.8 2092.7,1141.8 2097.8,1142.6 2103.0,1138.5 2108.2,1133.6 2112.5,1133.4"/>
<polyline class="g" points="305.0,1248.8 310.2,1249.8 315.3,1250.8 320.5,1251.2 325.7,1250.2 330.8,1248.6 336.0,1248.8 341.2,1250.8 346.3,1252.3 351.5,1250.2 356.7,1248.8 361.8,1250.0 367.0,1251.0 372.2,1250.6 377.3,1250.0 382.5,1249.6 387.7,1248.8 392.8,1247.7 398.0,1248.2 403.2,1249.8 408.3,1251.7 413.5,1251.4 418.7,1250.0 423.8,1249.0 429.0,1249.4 434.2,1250.0 439.3,1250.2 444.5,1249.6 449.7,1249.6 454.8,1250.6 460.0,1251.4 465.2,1250.8 470.3,1249.8 475.5,1249.2 480.7,1248.8 485.8,1249.6 491.0,1251.0 496.2,1252.1 501.3,1250.6 506.5,1249.0 511.7,1250.0 516.8,1251.2 522.0,1249.2 527.2,1245.5 532.3,1244.0 537.5,1246.5 542.7,1250.8 547.8,1252.9 553.0,1251.2 558.2,1249.8 563.3,1251.7 568.5,1254.3 573.7,1253.7 578.8,1250.8 584.0,1250.0 589.2,1250.8 594.3,1251.2 599.5,1250.6 604.7,1250.6 609.8,1251.2 615.0,1251.7 620.2,1251.2 625.3,1250.2 630.5,1248.8 635.7,1247.5 640.8,1245.7 646.0,1241.6 651.2,1236.8 656.3,1237.3 661.5,1245.1 666.7,1254.9 671.8,1261.5 677.0,1261.9 682.2,1253.3 687.3,1246.5 692.5,1247.1 697.7,1249.6 702.8,1252.3 708.0,1257.4 713.2,1261.5 718.3,1261.1 723.5,1259.1 728.7,1251.2 733.8,1241.6 739.0,1236.8 744.2,1239.3 749.3,1243.0 754.5,1245.1 759.7,1246.5 764.8,1250.6 770.0,1254.7 775.2,1257.0 780.3,1258.0 785.5,1254.7 790.7,1247.7 795.8,1241.0 801.0,1238.5 806.2,1241.6 811.3,1248.2 816.5,1253.9 821.7,1256.6 826.8,1256.6 832.0,1255.6 837.2,1254.5 842.3,1252.9 847.5,1251.2 852.7,1251.9 857.8,1253.9 863.0,1253.9 868.2,1249.2 873.3,1245.1 878.5,1245.7 883.7,1247.9 888.8,1247.1 894.0,1244.5 899.2,1243.8 904.3,1247.1 909.5,1251.2 914.7,1253.9 919.8,1253.9 925.0,1250.6 930.2,1246.5 935.3,1244.0 940.5,1242.4 945.7,1241.4 950.8,1242.6 956.0,1247.1 961.2,1252.3 966.3,1256.4 971.5,1259.5 976.7,1261.5 981.8,1261.9 987.0,1260.1 992.2,1256.8 997.3,1252.7 1002.5,1249.2 1007.7,1248.6 1012.8,1249.8 1018.0,1250.8 1023.2,1251.9 1028.3,1253.7 1033.5,1254.1 1038.7,1253.3 1043.8,1251.7 1049.0,1248.8 1054.2,1243.6 1059.3,1238.5 1064.5,1236.8 1069.7,1237.5 1074.8,1238.9 1080.0,1242.2 1085.2,1246.1 1090.3,1249.4 1095.5,1251.9 1100.7,1252.3 1105.8,1251.9 1111.0,1252.9 1116.2,1255.4 1121.3,1256.8 1126.5,1257.0 1131.7,1257.4 1136.8,1257.0 1142.0,1253.9 1147.2,1249.6 1152.3,1245.1 1157.5,1240.5 1162.7,1238.1 1167.8,1239.5 1173.0,1244.5 1178.2,1250.2 1183.3,1254.9 1188.5,1258.0 1193.7,1258.9 1198.8,1257.0 1204.0,1254.3 1209.2,1250.4 1214.3,1247.1 1219.5,1244.2 1224.7,1243.8 1229.8,1247.7 1235.0,1253.3 1240.2,1254.9 1245.3,1253.7 1250.5,1254.3 1255.7,1256.0 1260.8,1256.8 1266.0,1256.2 1271.2,1256.0 1276.3,1258.4 1281.5,1263.2 1286.7,1267.3 1291.8,1269.8 1297.0,1269.8 1302.2,1268.7 1307.3,1268.1 1312.5,1266.1 1317.7,1260.5 1322.8,1250.8 1328.0,1237.9 1333.2,1222.4 1338.3,1210.1 1343.5,1200.8 1348.7,1194.3 1353.8,1189.9 1359.0,1188.5 1364.2,1193.0 1369.3,1203.9 1374.5,1220.4 1379.7,1239.9 1384.8,1259.5 1390.0,1274.9 1395.2,1284.2 1400.3,1288.3 1405.5,1286.8 1410.7,1282.1 1415.8,1274.9 1421.0,1264.6 1426.2,1256.0 1431.3,1255.8 1436.5,1261.5 1441.7,1269.8 1446.8,1277.4 1452.0,1283.7 1457.2,1286.6 1462.3,1283.5 1467.5,1273.9 1472.7,1260.5 1477.8,1249.2 1483.0,1243.0 1488.2,1242.6 1493.3,1247.1 1498.5,1256.4 1503.7,1266.7 1508.8,1274.5 1514.0,1277.4 1519.2,1273.9 1524.3,1263.6 1529.5,1249.2 1534.7,1233.1 1539.8,1217.3 1545.0,1203.9 1550.2,1195.7 1555.3,1193.0 1560.5,1194.3 1565.7,1196.7 1570.8,1200.8 1576.0,1207.0 1581.2,1215.2 1586.3,1223.5 1591.5,1232.7 1596.7,1243.4 1601.8,1255.4 1607.0,1266.3 1612.2,1274.9 1617.3,1280.0 1622.5,1282.7 1627.7,1283.5 1632.8,1282.1 1638.0,1277.0 1643.2,1269.8 1648.3,1263.6 1653.5,1260.9 1658.7,1260.5 1663.8,1261.9 1669.0,1265.6 1674.2,1271.8 1679.3,1274.5 1684.5,1271.8 1689.7,1267.1 1694.8,1261.9 1700.0,1255.4 1705.2,1246.1 1710.3,1237.9 1715.5,1233.8 1720.7,1232.7 1725.8,1233.3 1731.0,1235.4 1736.2,1239.3 1741.3,1244.5 1746.5,1248.2 1751.7,1248.6 1756.8,1246.5 1762.0,1244.2 1767.2,1243.4 1772.3,1243.6 1777.5,1243.0 1782.7,1241.4 1787.8,1240.5 1793.0,1244.0 1798.2,1248.2 1803.3,1250.6 1808.5,1250.8 1813.7,1250.2 1818.8,1251.7 1824.0,1253.7 1829.2,1253.3 1834.3,1249.2 1839.5,1245.1 1844.7,1245.5 1849.8,1249.2 1855.0,1249.8 1860.2,1246.1 1865.3,1244.2 1870.5,1248.8 1875.7,1253.3 1880.8,1252.5 1886.0,1251.2 1891.2,1251.7 1896.3,1252.7 1901.5,1253.7 1906.7,1254.9 1911.8,1256.0 1917.0,1256.0 1922.2,1256.4 1927.3,1259.1 1932.5,1260.9 1937.7,1260.9 1942.8,1260.7 1948.0,1259.9 1953.2,1257.8 1958.3,1254.9 1963.5,1251.2 1968.7,1247.5 1973.8,1245.3 1979.0,1244.0 1984.2,1242.6 1989.3,1241.4 1994.5,1241.0 1999.7,1241.4 2004.8,1240.1 2010.0,1237.5 2015.2,1236.2 2020.3,1237.9 2025.5,1239.5 2030.7,1240.1 2035.8,1241.0 2041.0,1243.0 2046.2,1246.7 2051.3,1249.6 2056.5,1251.9 2061.7,1254.7 2066.8,1257.4 2072.0,1258.2 2077.2,1258.0 2082.3,1259.1 2087.5,1261.1 2092.7,1262.3 2097.8,1260.1 2103.0,1256.8 2108.2,1255.4 2112.5,1255.4"/>
<polyline class="g" points="305.0,1362.0 310.2,1361.4 315.3,1361.8 320.5,1363.0 325.7,1363.6 330.8,1362.4 336.0,1361.0 341.2,1361.6 346.3,1363.0 351.5,1363.6 356.7,1362.6 361.8,1361.4 367.0,1361.2 372.2,1362.0 377.3,1363.0 382.5,1363.4 387.7,1362.2 392.8,1360.6 398.0,1360.1 403.2,1361.4 408.3,1362.4 413.5,1362.8 418.7,1362.6 423.8,1362.0 429.0,1360.8 434.2,1359.3 439.3,1359.5 444.5,1361.6 449.7,1364.1 454.8,1364.7 460.0,1362.6 465.2,1360.8 470.3,1361.4 475.5,1362.8 480.7,1363.8 485.8,1363.6 491.0,1362.2 496.2,1361.2 501.3,1361.6 506.5,1362.4 511.7,1362.6 516.8,1362.4 522.0,1362.2 527.2,1362.8 532.3,1363.4 537.5,1363.0 542.7,1361.6 547.8,1360.6 553.0,1360.6 558.2,1361.4 563.3,1362.2 568.5,1362.2 573.7,1361.6 578.8,1361.2 584.0,1361.8 589.2,1362.8 594.3,1363.0 599.5,1362.4 604.7,1362.0 609.8,1362.6 615.0,1363.4 620.2,1363.2 625.3,1362.4 630.5,1361.4 635.7,1360.3 640.8,1359.7 646.0,1358.7 651.2,1356.1 656.3,1355.8 661.5,1362.4 666.7,1368.8 671.8,1371.2 677.0,1370.2 682.2,1365.7 687.3,1358.3 692.5,1356.9 697.7,1363.4 702.8,1365.1 708.0,1363.6 713.2,1366.1 718.3,1367.1 723.5,1363.6 728.7,1358.5 733.8,1353.4 739.0,1351.3 744.2,1353.8 749.3,1357.5 754.5,1360.8 759.7,1363.0 764.8,1365.1 770.0,1367.5 775.2,1369.8 780.3,1369.8 785.5,1364.1 790.7,1357.5 795.8,1355.4 801.0,1356.9 806.2,1358.9 811.3,1360.6 816.5,1362.0 821.7,1363.4 826.8,1364.7 832.0,1364.7 837.2,1364.5 842.3,1365.5 847.5,1366.1 852.7,1365.3 857.8,1363.6 863.0,1361.6 868.2,1359.3 873.3,1357.5 878.5,1357.1 883.7,1357.1 888.8,1356.9 894.0,1357.9 899.2,1359.9 904.3,1362.0 909.5,1363.4 914.7,1363.8 919.8,1363.2 925.0,1362.0 930.2,1360.3 935.3,1359.1 940.5,1359.3 945.7,1360.8 950.8,1362.4 956.0,1363.8 961.2,1365.1 966.3,1365.7 971.5,1365.7 976.7,1366.7 981.8,1368.2 987.0,1367.8 992.2,1364.1 997.3,1361.0 1002.5,1360.6 1007.7,1361.8 1012.8,1362.8 1018.0,1363.4 1023.2,1363.6 1028.3,1363.2 1033.5,1362.4 1038.7,1361.6 1043.8,1360.6 1049.0,1356.2 1054.2,1352.3 1059.3,1355.4 1064.5,1359.5 1069.7,1361.8 1074.8,1361.2 1080.0,1358.3 1085.2,1355.8 1090.3,1355.8 1095.5,1358.5 1100.7,1362.0 1105.8,1366.1 1111.0,1369.8 1116.2,1372.9 1121.3,1373.7 1126.5,1371.9 1131.7,1368.6 1136.8,1364.5 1142.0,1357.9 1147.2,1351.3 1152.3,1349.4 1157.5,1352.3 1162.7,1356.2 1167.8,1360.3 1173.0,1364.1 1178.2,1367.1 1183.3,1368.2 1188.5,1366.7 1193.7,1364.5 1198.8,1363.6 1204.0,1363.4 1209.2,1360.8 1214.3,1357.9 1219.5,1358.3 1224.7,1361.0 1229.8,1362.4 1235.0,1362.4 1240.2,1364.1 1245.3,1367.1 1250.5,1370.6 1255.7,1373.3 1260.8,1373.1 1266.0,1372.9 1271.2,1375.4 1276.3,1378.4 1281.5,1380.9 1286.7,1380.1 1291.8,1376.4 1297.0,1371.2 1302.2,1366.1 1307.3,1359.9 1312.5,1352.1 1317.7,1343.5 1322.8,1334.8 1328.0,1326.0 1333.2,1318.4 1338.3,1313.0 1343.5,1310.6 1348.7,1310.6 1353.8,1313.7 1359.0,1320.9 1364.2,1334.2 1369.3,1351.7 1374.5,1372.3 1379.7,1391.8 1384.8,1407.2 1390.0,1417.9 1395.2,1423.3 1400.3,1421.6 1405.5,1413.4 1410.7,1399.0 1415.8,1382.6 1421.0,1369.2 1426.2,1360.3 1431.3,1355.4 1436.5,1355.2 1441.7,1357.5 1446.8,1359.9 1452.0,1359.9 1457.2,1357.5 1462.3,1354.8 1467.5,1352.9 1472.7,1351.7 1477.8,1349.0 1483.0,1348.2 1488.2,1352.7 1493.3,1360.6 1498.5,1367.5 1503.7,1371.9 1508.8,1374.3 1514.0,1374.7 1519.2,1372.7 1524.3,1368.2 1529.5,1362.4 1534.7,1355.8 1539.8,1349.7 1545.0,1343.9 1550.2,1339.4 1555.3,1337.7 1560.5,1340.0 1565.7,1344.5 1570.8,1348.2 1576.0,1351.7 1581.2,1356.4 1586.3,1361.4 1591.5,1365.1 1596.7,1367.1 1601.8,1370.2 1607.0,1374.3 1612.2,1378.0 1617.3,1379.1 1622.5,1378.9 1627.7,1378.4 1632.8,1377.4 1638.0,1374.3 1643.2,1369.6 1648.3,1364.5 1653.5,1359.9 1658.7,1357.9 1663.8,1357.5 1669.0,1358.3 1674.2,1359.9 1679.3,1363.0 1684.5,1366.5 1689.7,1369.2 1694.8,1368.2 1700.0,1364.1 1705.2,1359.5 1710.3,1356.4 1715.5,1355.4 1720.7,1354.8 1725.8,1355.2 1731.0,1357.9 1736.2,1362.0 1741.3,1365.5 1746.5,1366.1 1751.7,1364.5 1756.8,1362.8 1762.0,1362.4 1767.2,1362.0 1772.3,1360.6 1777.5,1358.5 1782.7,1357.1 1787.8,1355.8 1793.0,1354.8 1798.2,1354.0 1803.3,1354.0 1808.5,1354.8 1813.7,1355.4 1818.8,1356.2 1824.0,1358.5 1829.2,1361.6 1834.3,1364.5 1839.5,1366.5 1844.7,1368.2 1849.8,1368.8 1855.0,1368.2 1860.2,1366.5 1865.3,1366.1 1870.5,1366.7 1875.7,1365.7 1880.8,1362.4 1886.0,1358.9 1891.2,1357.3 1896.3,1358.9 1901.5,1362.0 1906.7,1364.5 1911.8,1366.1 1917.0,1367.8 1922.2,1369.8 1927.3,1370.6 1932.5,1369.6 1937.7,1367.1 1942.8,1364.7 1948.0,1362.0 1953.2,1359.5 1958.3,1357.3 1963.5,1356.4 1968.7,1356.2 1973.8,1356.9 1979.0,1358.3 1984.2,1359.1 1989.3,1358.9 1994.5,1358.1 1999.7,1357.9 2004.8,1357.7 2010.0,1357.3 2015.2,1356.4 2020.3,1355.8 2025.5,1356.2 2030.7,1357.9 2035.8,1361.0 2041.0,1364.1 2046.2,1366.1 2051.3,1367.3 2056.5,1367.8 2061.7,1367.8 2066.8,1366.9 2072.0,1365.5 2077.2,1364.1 2082.3,1363.2 2087.5,1362.4 2092.7,1361.2 2097.8,1362.0 2103.0,1364.5 2108.2,1366.7 2112.5,1366.5"/>
<text class="lb" x="324.9" y="227.4">604400181 | 1.00</text>
<text class="lb" x="324.9" y="339.5">1500408 | 0.88</text>
<text class="lb" x="324.9" y="451.6">1058160 | 0.81</text>
<text class="lb" x="324.9" y="563.8">1150136 | 0.78</text>
<text class="lb" x="324.9" y="675.9">1105329 | 0.77</text>
<text class="lb" x="324.9" y="788.0">1221193 | 0.76</text>
<text class="lb" x="324.9" y="900.1">1511512 | 0.74</text>
<text class="lb" x="324.9" y="1012.2">1074054 | 0.73</text>
<text class="lb" x="324.9" y="1124.4">1095202 | 0.72</text>
<text class="lb" x="324.9" y="1236.5">1511397 | 0.71</text>
<text class="lb" x="324.9" y="1348.6">1511524 | 0.71</text>
<rect x="661.8" y="213.0" width="8" height="56" fill="#ff0000"/>
<rect x="1162.9" y="213.0" width="8" height="56" fill="#00dd00"/>
<rect x="1153.0" y="325.1" width="8" height="56" fill="#00dd00"/>
<rect x="910.9" y="437.2" width="8" height="56" fill="#00dd00"/>
<rect x="1215.9" y="549.4" width="8" height="56" fill="#00dd00"/>
<rect x="1164.5" y="661.5" width="8" height="56" fill="#00dd00"/>
<rect x="941.3" y="773.6" width="8" height="56" fill="#00dd00"/>
<rect x="1322.0" y="885.7" width="8" height="56" fill="#00dd00"/>
<rect x="935.0" y="997.8" width="8" height="56" fill="#00dd00"/>
<rect x="1165.5" y="1110.0" width="8" height="56" fill="#00dd00"/>
<rect x="1329.2" y="1222.1" width="8" height="56" fill="#00dd00"/>
<rect x="1293.5" y="1334.2" width="8" height="56" fill="#00dd00"/>
<rect class="ax" x="304.5" y="129.5" width="1808.0" height="1429.0"/>
<line class="ax" x1="459.5" y1="1558.5" x2="459.5" y2="1540.0"/><line class="ax" x1="459.5" y1="129.5" x2="459.5" y2="148.5"/>
<text class="tl" x="457.9" y="1617.0">-0.2</text>
<line class="ax" x1="665.5" y1="1558.5" x2="665.5" y2="1540.0"/><line class="ax" x1="665.5" y1="129.5" x2="665.5" y2="148.5"/>
<text class="tl" x="664.3" y="1617.0">0</text>
<line class="ax" x1="872.5" y1="1558.5" x2="872.5" y2="1540.0"/><line class="ax" x1="872.5" y1="129.5" x2="872.5" y2="148.5"/>
<text class="tl" x="872.5" y="1617.0">0.2</text>
<line class="ax" x1="1079.5" y1="1558.5" x2="1079.5" y2="1540.0"/><line class="ax" x1="1079.5" y1="129.5" x2="1079.5" y2="148.5"/>
<text class="tl" x="1079.0" y="1617.0">0.4</text>
<line class="ax" x1="1285.5" y1="1558.5" x2="1285.5" y2="1540.0"/><line class="ax" x1="1285.5" y1="129.5" x2="1285.5" y2="148.5"/>
<text class="tl" x="1285.5" y="1617.0">0.6</text>
<line class="ax" x1="1492.5" y1="1558.5" x2="1492.5" y2="1540.0"/><line class="ax" x1="1492.5" y1="129.5" x2="1492.5" y2="148.5"/>
<text class="tl" x="1492.5" y="1617.0">0.8</text>
<line class="ax" x1="1699.5" y1="1558.5" x2="1699.5" y2="1540.0"/><line class="ax" x1="1699.5" y1="129.5" x2="1699.5" y2="148.5"/>
<text class="tl" x="1699.5" y="1617.0">1</text>
<line class="ax" x1="1905.5" y1="1558.5" x2="1905.5" y2="1540.0"/><line class="ax" x1="1905.5" y1="129.5" x2="1905.5" y2="148.5"/>
<text class="tl" x="1905.5" y="1617.0">1.2</text>
<line class="ax" x1="2112.5" y1="1558.5" x2="2112.5" y2="1540.0"/><line class="ax" x1="2112.5" y1="129.5" x2="2112.5" y2="148.5"/>
<text class="tl" x="2112.5" y="1617.0">1.4</text>
<line class="ax" x1="304.5" y1="353.5" x2="323.5" y2="353.5"/><line class="ax" x1="2112.5" y1="353.5" x2="2093.5" y2="353.5"/>
<line class="ax" x1="304.5" y1="633.5" x2="323.5" y2="633.5"/><line class="ax" x1="2112.5" y1="633.5" x2="2093.5" y2="633.5"/>
<line class="ax" x1="304.5" y1="913.5" x2="323.5" y2="913.5"/><line class="ax" x1="2112.5" y1="913.5" x2="2093.5" y2="913.5"/>
<line class="ax" x1="304.5" y1="1194.5" x2="323.5" y2="1194.5"/><line class="ax" x1="2112.5" y1="1194.5" x2="2093.5" y2="1194.5"/>
<text class="tt" x="1208.0" y="96.2">604400181.OO.AXEC1.EHN</text>
</svg></body></html>
